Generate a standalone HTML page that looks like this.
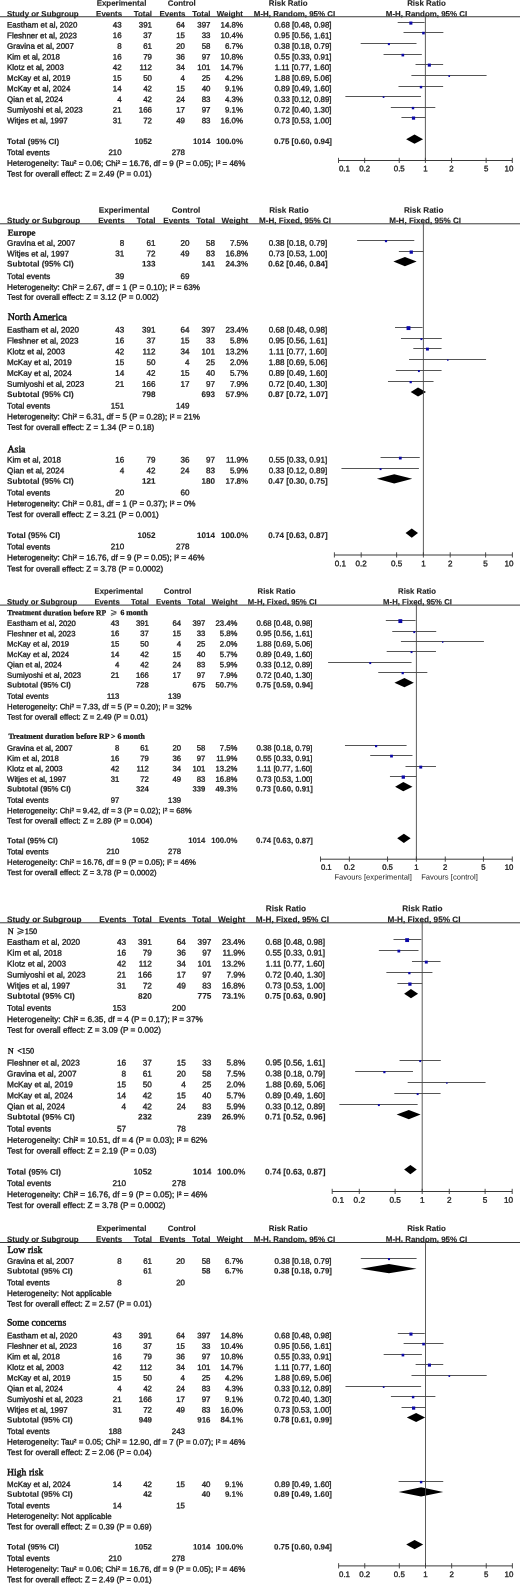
<!DOCTYPE html>
<html lang="en">
<head>
<meta charset="utf-8">
<title>Forest plots</title>
<style>
html,body{margin:0;padding:0;background:#fff;}
body{width:520px;height:1584px;overflow:hidden;}
svg{display:block;position:absolute;left:0;top:0;}
text{font-family:"Liberation Sans",sans-serif;fill:#242424;stroke:#242424;stroke-width:0.34px;text-rendering:geometricPrecision;}
svg{filter:blur(0.4px);}
text.b{font-weight:bold;stroke-width:0.12px;}
text.s{font-family:"Liberation Serif",serif;stroke:#000;stroke-width:0.42px;}
text.s.b{stroke-width:0.25px;}
</style>
</head>
<body>
<svg width="520" height="1584" viewBox="0 0 520 1584">
<rect x="0" y="0" width="520" height="1584" fill="#ffffff"/>
<text x="121.50" y="5.65" transform="rotate(0.05 121.50 5.65)" font-size="7.91" text-anchor="middle" class="b">Experimental</text>
<text x="181.75" y="5.65" transform="rotate(0.05 181.75 5.65)" font-size="7.91" text-anchor="middle" class="b">Control</text>
<text x="288.20" y="5.65" transform="rotate(0.05 288.20 5.65)" font-size="7.91" text-anchor="middle" class="b">Risk Ratio</text>
<text x="426.50" y="5.65" transform="rotate(0.05 426.50 5.65)" font-size="7.91" text-anchor="middle" class="b">Risk Ratio</text>
<text x="7.10" y="16.50" transform="rotate(0.05 7.10 16.50)" font-size="7.91" class="b">Study or Subgroup</text>
<text x="122.05" y="16.50" transform="rotate(0.05 122.05 16.50)" font-size="7.91" text-anchor="end" class="b">Events</text>
<text x="152.00" y="16.50" transform="rotate(0.05 152.00 16.50)" font-size="7.91" text-anchor="end" class="b">Total</text>
<text x="185.45" y="16.50" transform="rotate(0.05 185.45 16.50)" font-size="7.91" text-anchor="end" class="b">Events</text>
<text x="210.50" y="16.50" transform="rotate(0.05 210.50 16.50)" font-size="7.91" text-anchor="end" class="b">Total</text>
<text x="243.00" y="16.50" transform="rotate(0.05 243.00 16.50)" font-size="7.91" text-anchor="end" class="b">Weight</text>
<text x="294.50" y="16.50" transform="rotate(0.05 294.50 16.50)" font-size="7.91" text-anchor="middle" class="b">M-H, Random, 95% CI</text>
<text x="426.50" y="16.50" transform="rotate(0.05 426.50 16.50)" font-size="7.91" text-anchor="middle" class="b">M-H, Random, 95% CI</text>
<line x1="0.00" y1="16.75" x2="520.00" y2="16.75" stroke="#3a3a3a" stroke-width="1.0"/>
<text x="7.10" y="27.50" transform="rotate(0.05 7.10 27.50)" font-size="7.91">Eastham et al, 2020</text>
<text x="121.60" y="27.50" transform="rotate(0.05 121.60 27.50)" font-size="7.91" text-anchor="end">43</text>
<text x="152.00" y="27.50" transform="rotate(0.05 152.00 27.50)" font-size="7.91" text-anchor="end">391</text>
<text x="185.00" y="27.50" transform="rotate(0.05 185.00 27.50)" font-size="7.91" text-anchor="end">64</text>
<text x="210.50" y="27.50" transform="rotate(0.05 210.50 27.50)" font-size="7.91" text-anchor="end">397</text>
<text x="243.00" y="27.50" transform="rotate(0.05 243.00 27.50)" font-size="7.91" text-anchor="end">14.8%</text>
<text x="303.00" y="27.50" transform="rotate(0.05 303.00 27.50)" font-size="7.91" text-anchor="middle">0.68 [0.48, 0.98]</text>
<line x1="397.70" y1="22.50" x2="424.64" y2="22.50" stroke="#363636" stroke-width="0.85"/>
<rect x="409.31" y="21.56" width="3.08" height="3.08" fill="#0c08a8"/>
<text x="7.10" y="38.13" transform="rotate(0.05 7.10 38.13)" font-size="7.91">Fleshner et al, 2023</text>
<text x="121.60" y="38.13" transform="rotate(0.05 121.60 38.13)" font-size="7.91" text-anchor="end">16</text>
<text x="152.00" y="38.13" transform="rotate(0.05 152.00 38.13)" font-size="7.91" text-anchor="end">37</text>
<text x="185.00" y="38.13" transform="rotate(0.05 185.00 38.13)" font-size="7.91" text-anchor="end">15</text>
<text x="210.50" y="38.13" transform="rotate(0.05 210.50 38.13)" font-size="7.91" text-anchor="end">33</text>
<text x="243.00" y="38.13" transform="rotate(0.05 243.00 38.13)" font-size="7.91" text-anchor="end">10.4%</text>
<text x="303.00" y="38.13" transform="rotate(0.05 303.00 38.13)" font-size="7.91" text-anchor="middle">0.95 [0.56, 1.61]</text>
<line x1="403.52" y1="32.50" x2="443.37" y2="32.50" stroke="#363636" stroke-width="0.85"/>
<rect x="422.17" y="31.81" width="2.58" height="2.58" fill="#0c08a8"/>
<text x="7.10" y="48.77" transform="rotate(0.05 7.10 48.77)" font-size="7.91">Gravina et al, 2007</text>
<text x="121.60" y="48.77" transform="rotate(0.05 121.60 48.77)" font-size="7.91" text-anchor="end">8</text>
<text x="152.00" y="48.77" transform="rotate(0.05 152.00 48.77)" font-size="7.91" text-anchor="end">61</text>
<text x="185.00" y="48.77" transform="rotate(0.05 185.00 48.77)" font-size="7.91" text-anchor="end">20</text>
<text x="210.50" y="48.77" transform="rotate(0.05 210.50 48.77)" font-size="7.91" text-anchor="end">58</text>
<text x="243.00" y="48.77" transform="rotate(0.05 243.00 48.77)" font-size="7.91" text-anchor="end">6.7%</text>
<text x="303.00" y="48.77" transform="rotate(0.05 303.00 48.77)" font-size="7.91" text-anchor="middle">0.38 [0.18, 0.79]</text>
<line x1="360.68" y1="43.50" x2="416.50" y2="43.50" stroke="#363636" stroke-width="0.85"/>
<rect x="387.85" y="43.06" width="2.07" height="2.07" fill="#0c08a8"/>
<text x="7.10" y="59.40" transform="rotate(0.05 7.10 59.40)" font-size="7.91">Kim et al, 2018</text>
<text x="121.60" y="59.40" transform="rotate(0.05 121.60 59.40)" font-size="7.91" text-anchor="end">16</text>
<text x="152.00" y="59.40" transform="rotate(0.05 152.00 59.40)" font-size="7.91" text-anchor="end">79</text>
<text x="185.00" y="59.40" transform="rotate(0.05 185.00 59.40)" font-size="7.91" text-anchor="end">36</text>
<text x="210.50" y="59.40" transform="rotate(0.05 210.50 59.40)" font-size="7.91" text-anchor="end">97</text>
<text x="243.00" y="59.40" transform="rotate(0.05 243.00 59.40)" font-size="7.91" text-anchor="end">10.8%</text>
<text x="303.00" y="59.40" transform="rotate(0.05 303.00 59.40)" font-size="7.91" text-anchor="middle">0.55 [0.33, 0.91]</text>
<line x1="383.56" y1="54.50" x2="421.84" y2="54.50" stroke="#363636" stroke-width="0.85"/>
<rect x="401.52" y="53.79" width="2.63" height="2.63" fill="#0c08a8"/>
<text x="7.10" y="70.03" transform="rotate(0.05 7.10 70.03)" font-size="7.91">Klotz et al, 2003</text>
<text x="121.60" y="70.03" transform="rotate(0.05 121.60 70.03)" font-size="7.91" text-anchor="end">42</text>
<text x="152.00" y="70.03" transform="rotate(0.05 152.00 70.03)" font-size="7.91" text-anchor="end">112</text>
<text x="185.00" y="70.03" transform="rotate(0.05 185.00 70.03)" font-size="7.91" text-anchor="end">34</text>
<text x="210.50" y="70.03" transform="rotate(0.05 210.50 70.03)" font-size="7.91" text-anchor="end">101</text>
<text x="243.00" y="70.03" transform="rotate(0.05 243.00 70.03)" font-size="7.91" text-anchor="end">14.7%</text>
<text x="303.00" y="70.03" transform="rotate(0.05 303.00 70.03)" font-size="7.91" text-anchor="middle">1.11 [0.77, 1.60]</text>
<line x1="415.54" y1="64.50" x2="443.14" y2="64.50" stroke="#363636" stroke-width="0.85"/>
<rect x="427.80" y="63.57" width="3.07" height="3.07" fill="#0c08a8"/>
<text x="7.10" y="80.66" transform="rotate(0.05 7.10 80.66)" font-size="7.91">McKay et al, 2019</text>
<text x="121.60" y="80.66" transform="rotate(0.05 121.60 80.66)" font-size="7.91" text-anchor="end">15</text>
<text x="152.00" y="80.66" transform="rotate(0.05 152.00 80.66)" font-size="7.91" text-anchor="end">50</text>
<text x="185.00" y="80.66" transform="rotate(0.05 185.00 80.66)" font-size="7.91" text-anchor="end">4</text>
<text x="210.50" y="80.66" transform="rotate(0.05 210.50 80.66)" font-size="7.91" text-anchor="end">25</text>
<text x="243.00" y="80.66" transform="rotate(0.05 243.00 80.66)" font-size="7.91" text-anchor="end">4.2%</text>
<text x="303.00" y="80.66" transform="rotate(0.05 303.00 80.66)" font-size="7.91" text-anchor="middle">1.88 [0.69, 5.06]</text>
<line x1="411.40" y1="75.50" x2="486.59" y2="75.50" stroke="#363636" stroke-width="0.85"/>
<rect x="448.40" y="75.28" width="1.64" height="1.64" fill="#0c08a8"/>
<text x="7.10" y="91.30" transform="rotate(0.05 7.10 91.30)" font-size="7.91">McKay et al, 2024</text>
<text x="121.60" y="91.30" transform="rotate(0.05 121.60 91.30)" font-size="7.91" text-anchor="end">14</text>
<text x="152.00" y="91.30" transform="rotate(0.05 152.00 91.30)" font-size="7.91" text-anchor="end">42</text>
<text x="185.00" y="91.30" transform="rotate(0.05 185.00 91.30)" font-size="7.91" text-anchor="end">15</text>
<text x="210.50" y="91.30" transform="rotate(0.05 210.50 91.30)" font-size="7.91" text-anchor="end">40</text>
<text x="243.00" y="91.30" transform="rotate(0.05 243.00 91.30)" font-size="7.91" text-anchor="end">9.1%</text>
<text x="303.00" y="91.30" transform="rotate(0.05 303.00 91.30)" font-size="7.91" text-anchor="middle">0.89 [0.49, 1.60]</text>
<line x1="398.48" y1="86.50" x2="443.14" y2="86.50" stroke="#363636" stroke-width="0.85"/>
<rect x="419.80" y="85.89" width="2.41" height="2.41" fill="#0c08a8"/>
<text x="7.10" y="101.93" transform="rotate(0.05 7.10 101.93)" font-size="7.91">Qian et al, 2024</text>
<text x="121.60" y="101.93" transform="rotate(0.05 121.60 101.93)" font-size="7.91" text-anchor="end">4</text>
<text x="152.00" y="101.93" transform="rotate(0.05 152.00 101.93)" font-size="7.91" text-anchor="end">42</text>
<text x="185.00" y="101.93" transform="rotate(0.05 185.00 101.93)" font-size="7.91" text-anchor="end">24</text>
<text x="210.50" y="101.93" transform="rotate(0.05 210.50 101.93)" font-size="7.91" text-anchor="end">83</text>
<text x="243.00" y="101.93" transform="rotate(0.05 243.00 101.93)" font-size="7.91" text-anchor="end">4.3%</text>
<text x="303.00" y="101.93" transform="rotate(0.05 303.00 101.93)" font-size="7.91" text-anchor="middle">0.33 [0.12, 0.89]</text>
<line x1="345.38" y1="96.50" x2="421.00" y2="96.50" stroke="#363636" stroke-width="0.85"/>
<rect x="382.73" y="96.27" width="1.66" height="1.66" fill="#0c08a8"/>
<text x="7.10" y="112.56" transform="rotate(0.05 7.10 112.56)" font-size="7.91">Sumiyoshi et al, 2023</text>
<text x="121.60" y="112.56" transform="rotate(0.05 121.60 112.56)" font-size="7.91" text-anchor="end">21</text>
<text x="152.00" y="112.56" transform="rotate(0.05 152.00 112.56)" font-size="7.91" text-anchor="end">166</text>
<text x="185.00" y="112.56" transform="rotate(0.05 185.00 112.56)" font-size="7.91" text-anchor="end">17</text>
<text x="210.50" y="112.56" transform="rotate(0.05 210.50 112.56)" font-size="7.91" text-anchor="end">97</text>
<text x="243.00" y="112.56" transform="rotate(0.05 243.00 112.56)" font-size="7.91" text-anchor="end">9.1%</text>
<text x="303.00" y="112.56" transform="rotate(0.05 303.00 112.56)" font-size="7.91" text-anchor="middle">0.72 [0.40, 1.30]</text>
<line x1="390.82" y1="107.50" x2="435.30" y2="107.50" stroke="#363636" stroke-width="0.85"/>
<rect x="411.80" y="106.89" width="2.41" height="2.41" fill="#0c08a8"/>
<text x="7.10" y="123.20" transform="rotate(0.05 7.10 123.20)" font-size="7.91">Witjes et al, 1997</text>
<text x="121.60" y="123.20" transform="rotate(0.05 121.60 123.20)" font-size="7.91" text-anchor="end">31</text>
<text x="152.00" y="123.20" transform="rotate(0.05 152.00 123.20)" font-size="7.91" text-anchor="end">72</text>
<text x="185.00" y="123.20" transform="rotate(0.05 185.00 123.20)" font-size="7.91" text-anchor="end">49</text>
<text x="210.50" y="123.20" transform="rotate(0.05 210.50 123.20)" font-size="7.91" text-anchor="end">83</text>
<text x="243.00" y="123.20" transform="rotate(0.05 243.00 123.20)" font-size="7.91" text-anchor="end">16.0%</text>
<text x="303.00" y="123.20" transform="rotate(0.05 303.00 123.20)" font-size="7.91" text-anchor="middle">0.73 [0.53, 1.00]</text>
<line x1="401.44" y1="117.50" x2="425.40" y2="117.50" stroke="#363636" stroke-width="0.85"/>
<rect x="411.92" y="116.50" width="3.20" height="3.20" fill="#0c08a8"/>
<text x="7.10" y="144.12" transform="rotate(0.05 7.10 144.12)" font-size="7.97" class="b">Total (95% CI)</text>
<text x="152.00" y="144.10" transform="rotate(0.05 152.00 144.10)" font-size="7.91" text-anchor="end" class="b">1052</text>
<text x="210.50" y="144.10" transform="rotate(0.05 210.50 144.10)" font-size="7.91" text-anchor="end" class="b">1014</text>
<text x="243.00" y="144.10" transform="rotate(0.05 243.00 144.10)" font-size="7.91" text-anchor="end" class="b">100.0%</text>
<text x="303.00" y="144.10" transform="rotate(0.05 303.00 144.10)" font-size="7.91" text-anchor="middle" class="b">0.75 [0.60, 0.94]</text>
<polygon points="406.12,139.20 414.54,134.60 423.06,139.20 414.54,143.80" fill="#000"/>
<text x="7.10" y="155.12" transform="rotate(0.05 7.10 155.12)" font-size="7.97">Total events</text>
<text x="121.60" y="155.10" transform="rotate(0.05 121.60 155.10)" font-size="7.91" text-anchor="end">210</text>
<text x="185.00" y="155.10" transform="rotate(0.05 185.00 155.10)" font-size="7.91" text-anchor="end">278</text>
<text x="7.10" y="165.82" transform="rotate(0.05 7.10 165.82)" font-size="7.97">Heterogeneity: Tau² = 0.06; Chi² = 16.76, df = 9 (P = 0.05); I² = 46%</text>
<text x="7.10" y="176.42" transform="rotate(0.05 7.10 176.42)" font-size="7.97">Test for overall effect: Z = 2.49 (P = 0.01)</text>
<line x1="425.40" y1="15.00" x2="425.40" y2="160.50" stroke="#484848" stroke-width="0.9"/>
<line x1="338.50" y1="160.50" x2="512.30" y2="160.50" stroke="#3a3a3a" stroke-width="1.0"/>
<line x1="338.50" y1="157.80" x2="338.50" y2="163.00" stroke="#3a3a3a" stroke-width="0.9"/>
<text x="338.90" y="171.30" transform="rotate(0.05 338.90 171.30)" font-size="7.91">0.1</text>
<line x1="364.66" y1="157.80" x2="364.66" y2="163.00" stroke="#3a3a3a" stroke-width="0.9"/>
<text x="364.66" y="171.30" transform="rotate(0.05 364.66 171.30)" font-size="7.91" text-anchor="middle">0.2</text>
<line x1="399.24" y1="157.80" x2="399.24" y2="163.00" stroke="#3a3a3a" stroke-width="0.9"/>
<text x="399.24" y="171.30" transform="rotate(0.05 399.24 171.30)" font-size="7.91" text-anchor="middle">0.5</text>
<line x1="425.40" y1="157.80" x2="425.40" y2="163.00" stroke="#3a3a3a" stroke-width="0.9"/>
<text x="425.40" y="171.30" transform="rotate(0.05 425.40 171.30)" font-size="7.91" text-anchor="middle">1</text>
<line x1="451.56" y1="157.80" x2="451.56" y2="163.00" stroke="#3a3a3a" stroke-width="0.9"/>
<text x="451.56" y="171.30" transform="rotate(0.05 451.56 171.30)" font-size="7.91" text-anchor="middle">2</text>
<line x1="486.14" y1="157.80" x2="486.14" y2="163.00" stroke="#3a3a3a" stroke-width="0.9"/>
<text x="486.14" y="171.30" transform="rotate(0.05 486.14 171.30)" font-size="7.91" text-anchor="middle">5</text>
<line x1="512.30" y1="157.80" x2="512.30" y2="163.00" stroke="#3a3a3a" stroke-width="0.9"/>
<text x="513.30" y="171.30" transform="rotate(0.05 513.30 171.30)" font-size="7.91" text-anchor="end">10</text>
<text x="124.15" y="212.66" transform="rotate(0.05 124.15 212.66)" font-size="8.08" text-anchor="middle" class="b">Experimental</text>
<text x="186.00" y="212.66" transform="rotate(0.05 186.00 212.66)" font-size="8.08" text-anchor="middle" class="b">Control</text>
<text x="288.90" y="212.66" transform="rotate(0.05 288.90 212.66)" font-size="8.08" text-anchor="middle" class="b">Risk Ratio</text>
<text x="423.75" y="212.66" transform="rotate(0.05 423.75 212.66)" font-size="8.08" text-anchor="middle" class="b">Risk Ratio</text>
<text x="7.10" y="223.16" transform="rotate(0.05 7.10 223.16)" font-size="8.08" class="b">Study or Subgroup</text>
<text x="124.65" y="223.16" transform="rotate(0.05 124.65 223.16)" font-size="8.08" text-anchor="end" class="b">Events</text>
<text x="155.40" y="223.16" transform="rotate(0.05 155.40 223.16)" font-size="8.08" text-anchor="end" class="b">Total</text>
<text x="189.85" y="223.16" transform="rotate(0.05 189.85 223.16)" font-size="8.08" text-anchor="end" class="b">Events</text>
<text x="214.90" y="223.16" transform="rotate(0.05 214.90 223.16)" font-size="8.08" text-anchor="end" class="b">Total</text>
<text x="248.30" y="223.16" transform="rotate(0.05 248.30 223.16)" font-size="8.08" text-anchor="end" class="b">Weight</text>
<text x="295.00" y="223.16" transform="rotate(0.05 295.00 223.16)" font-size="8.08" text-anchor="middle" class="b">M-H, Fixed, 95% CI</text>
<text x="425.10" y="223.16" transform="rotate(0.05 425.10 223.16)" font-size="8.08" text-anchor="middle" class="b">M-H, Fixed, 95% CI</text>
<line x1="0.00" y1="223.80" x2="520.00" y2="223.80" stroke="#3a3a3a" stroke-width="1.0"/>
<text x="7.70" y="235.60" transform="rotate(0.05 7.70 235.60)" font-size="8.85" class="s b" fill="#000">Europe</text>
<text x="7.10" y="245.76" transform="rotate(0.05 7.10 245.76)" font-size="8.08">Gravina et al, 2007</text>
<text x="124.20" y="245.76" transform="rotate(0.05 124.20 245.76)" font-size="8.08" text-anchor="end">8</text>
<text x="155.40" y="245.76" transform="rotate(0.05 155.40 245.76)" font-size="8.08" text-anchor="end">61</text>
<text x="189.40" y="245.76" transform="rotate(0.05 189.40 245.76)" font-size="8.08" text-anchor="end">20</text>
<text x="214.90" y="245.76" transform="rotate(0.05 214.90 245.76)" font-size="8.08" text-anchor="end">58</text>
<text x="248.30" y="245.76" transform="rotate(0.05 248.30 245.76)" font-size="8.08" text-anchor="end">7.5%</text>
<text x="298.00" y="245.76" transform="rotate(0.05 298.00 245.76)" font-size="8.08" text-anchor="middle">0.38 [0.18, 0.79]</text>
<line x1="357.12" y1="240.50" x2="414.29" y2="240.50" stroke="#363636" stroke-width="0.85"/>
<rect x="384.91" y="240.00" width="2.19" height="2.19" fill="#0c08a8"/>
<text x="7.10" y="256.36" transform="rotate(0.05 7.10 256.36)" font-size="8.08">Witjes et al, 1997</text>
<text x="124.20" y="256.36" transform="rotate(0.05 124.20 256.36)" font-size="8.08" text-anchor="end">31</text>
<text x="155.40" y="256.36" transform="rotate(0.05 155.40 256.36)" font-size="8.08" text-anchor="end">72</text>
<text x="189.40" y="256.36" transform="rotate(0.05 189.40 256.36)" font-size="8.08" text-anchor="end">49</text>
<text x="214.90" y="256.36" transform="rotate(0.05 214.90 256.36)" font-size="8.08" text-anchor="end">83</text>
<text x="248.30" y="256.36" transform="rotate(0.05 248.30 256.36)" font-size="8.08" text-anchor="end">16.8%</text>
<text x="298.00" y="256.36" transform="rotate(0.05 298.00 256.36)" font-size="8.08" text-anchor="middle">0.73 [0.53, 1.00]</text>
<line x1="398.86" y1="251.50" x2="423.40" y2="251.50" stroke="#363636" stroke-width="0.85"/>
<rect x="409.60" y="250.46" width="3.28" height="3.28" fill="#0c08a8"/>
<text x="7.10" y="266.57" transform="rotate(0.05 7.10 266.57)" font-size="8.12" class="b">Subtotal (95% CI)</text>
<text x="155.40" y="266.56" transform="rotate(0.05 155.40 266.56)" font-size="8.08" text-anchor="end" class="b">133</text>
<text x="214.90" y="266.56" transform="rotate(0.05 214.90 266.56)" font-size="8.08" text-anchor="end" class="b">141</text>
<text x="248.30" y="266.56" transform="rotate(0.05 248.30 266.56)" font-size="8.08" text-anchor="end" class="b">24.3%</text>
<text x="298.00" y="266.56" transform="rotate(0.05 298.00 266.56)" font-size="8.08" text-anchor="middle" class="b">0.62 [0.46, 0.84]</text>
<polygon points="393.39,261.60 404.92,257.00 416.66,261.60 404.92,266.20" fill="#000"/>
<text x="7.10" y="278.97" transform="rotate(0.05 7.10 278.97)" font-size="8.12">Total events</text>
<text x="124.20" y="278.96" transform="rotate(0.05 124.20 278.96)" font-size="8.08" text-anchor="end">39</text>
<text x="189.40" y="278.96" transform="rotate(0.05 189.40 278.96)" font-size="8.08" text-anchor="end">69</text>
<text x="7.10" y="289.87" transform="rotate(0.05 7.10 289.87)" font-size="8.12">Heterogeneity: Chi² = 2.67, df = 1 (P = 0.10); I² = 63%</text>
<text x="7.10" y="299.67" transform="rotate(0.05 7.10 299.67)" font-size="8.12">Test for overall effect: Z = 3.12 (P = 0.002)</text>
<text x="7.70" y="320.10" transform="rotate(0.05 7.70 320.10)" font-size="9.95" class="s" fill="#000">North America</text>
<text x="7.10" y="332.46" transform="rotate(0.05 7.10 332.46)" font-size="8.08">Eastham et al, 2020</text>
<text x="124.20" y="332.46" transform="rotate(0.05 124.20 332.46)" font-size="8.08" text-anchor="end">43</text>
<text x="155.40" y="332.46" transform="rotate(0.05 155.40 332.46)" font-size="8.08" text-anchor="end">391</text>
<text x="189.40" y="332.46" transform="rotate(0.05 189.40 332.46)" font-size="8.08" text-anchor="end">64</text>
<text x="214.90" y="332.46" transform="rotate(0.05 214.90 332.46)" font-size="8.08" text-anchor="end">397</text>
<text x="248.30" y="332.46" transform="rotate(0.05 248.30 332.46)" font-size="8.08" text-anchor="end">23.4%</text>
<text x="298.00" y="332.46" transform="rotate(0.05 298.00 332.46)" font-size="8.08" text-anchor="middle">0.68 [0.48, 0.98]</text>
<line x1="395.03" y1="327.50" x2="422.62" y2="327.50" stroke="#363636" stroke-width="0.85"/>
<rect x="406.56" y="326.17" width="3.87" height="3.87" fill="#0c08a8"/>
<text x="7.10" y="343.36" transform="rotate(0.05 7.10 343.36)" font-size="8.08">Fleshner et al, 2023</text>
<text x="124.20" y="343.36" transform="rotate(0.05 124.20 343.36)" font-size="8.08" text-anchor="end">16</text>
<text x="155.40" y="343.36" transform="rotate(0.05 155.40 343.36)" font-size="8.08" text-anchor="end">37</text>
<text x="189.40" y="343.36" transform="rotate(0.05 189.40 343.36)" font-size="8.08" text-anchor="end">15</text>
<text x="214.90" y="343.36" transform="rotate(0.05 214.90 343.36)" font-size="8.08" text-anchor="end">33</text>
<text x="248.30" y="343.36" transform="rotate(0.05 248.30 343.36)" font-size="8.08" text-anchor="end">5.8%</text>
<text x="298.00" y="343.36" transform="rotate(0.05 298.00 343.36)" font-size="8.08" text-anchor="middle">0.95 [0.56, 1.61]</text>
<line x1="400.99" y1="338.50" x2="441.81" y2="338.50" stroke="#363636" stroke-width="0.85"/>
<rect x="420.45" y="338.14" width="1.93" height="1.93" fill="#0c08a8"/>
<text x="7.10" y="354.16" transform="rotate(0.05 7.10 354.16)" font-size="8.08">Klotz et al, 2003</text>
<text x="124.20" y="354.16" transform="rotate(0.05 124.20 354.16)" font-size="8.08" text-anchor="end">42</text>
<text x="155.40" y="354.16" transform="rotate(0.05 155.40 354.16)" font-size="8.08" text-anchor="end">112</text>
<text x="189.40" y="354.16" transform="rotate(0.05 189.40 354.16)" font-size="8.08" text-anchor="end">34</text>
<text x="214.90" y="354.16" transform="rotate(0.05 214.90 354.16)" font-size="8.08" text-anchor="end">101</text>
<text x="248.30" y="354.16" transform="rotate(0.05 248.30 354.16)" font-size="8.08" text-anchor="end">13.2%</text>
<text x="298.00" y="354.16" transform="rotate(0.05 298.00 354.16)" font-size="8.08" text-anchor="middle">1.11 [0.77, 1.60]</text>
<line x1="413.30" y1="348.50" x2="441.57" y2="348.50" stroke="#363636" stroke-width="0.85"/>
<rect x="425.98" y="347.65" width="2.91" height="2.91" fill="#0c08a8"/>
<text x="7.10" y="365.06" transform="rotate(0.05 7.10 365.06)" font-size="8.08">McKay et al, 2019</text>
<text x="124.20" y="365.06" transform="rotate(0.05 124.20 365.06)" font-size="8.08" text-anchor="end">15</text>
<text x="155.40" y="365.06" transform="rotate(0.05 155.40 365.06)" font-size="8.08" text-anchor="end">50</text>
<text x="189.40" y="365.06" transform="rotate(0.05 189.40 365.06)" font-size="8.08" text-anchor="end">4</text>
<text x="214.90" y="365.06" transform="rotate(0.05 214.90 365.06)" font-size="8.08" text-anchor="end">25</text>
<text x="248.30" y="365.06" transform="rotate(0.05 248.30 365.06)" font-size="8.08" text-anchor="end">2.0%</text>
<text x="298.00" y="365.06" transform="rotate(0.05 298.00 365.06)" font-size="8.08" text-anchor="middle">1.88 [0.69, 5.06]</text>
<line x1="409.06" y1="359.50" x2="486.07" y2="359.50" stroke="#363636" stroke-width="0.85"/>
<rect x="447.10" y="359.40" width="1.40" height="1.40" fill="#0c08a8"/>
<text x="7.10" y="375.86" transform="rotate(0.05 7.10 375.86)" font-size="8.08">McKay et al, 2024</text>
<text x="124.20" y="375.86" transform="rotate(0.05 124.20 375.86)" font-size="8.08" text-anchor="end">14</text>
<text x="155.40" y="375.86" transform="rotate(0.05 155.40 375.86)" font-size="8.08" text-anchor="end">42</text>
<text x="189.40" y="375.86" transform="rotate(0.05 189.40 375.86)" font-size="8.08" text-anchor="end">15</text>
<text x="214.90" y="375.86" transform="rotate(0.05 214.90 375.86)" font-size="8.08" text-anchor="end">40</text>
<text x="248.30" y="375.86" transform="rotate(0.05 248.30 375.86)" font-size="8.08" text-anchor="end">5.7%</text>
<text x="298.00" y="375.86" transform="rotate(0.05 298.00 375.86)" font-size="8.08" text-anchor="middle">0.89 [0.49, 1.60]</text>
<line x1="395.83" y1="370.50" x2="441.57" y2="370.50" stroke="#363636" stroke-width="0.85"/>
<rect x="417.94" y="370.15" width="1.91" height="1.91" fill="#0c08a8"/>
<text x="7.10" y="386.66" transform="rotate(0.05 7.10 386.66)" font-size="8.08">Sumiyoshi et al, 2023</text>
<text x="124.20" y="386.66" transform="rotate(0.05 124.20 386.66)" font-size="8.08" text-anchor="end">21</text>
<text x="155.40" y="386.66" transform="rotate(0.05 155.40 386.66)" font-size="8.08" text-anchor="end">166</text>
<text x="189.40" y="386.66" transform="rotate(0.05 189.40 386.66)" font-size="8.08" text-anchor="end">17</text>
<text x="214.90" y="386.66" transform="rotate(0.05 214.90 386.66)" font-size="8.08" text-anchor="end">97</text>
<text x="248.30" y="386.66" transform="rotate(0.05 248.30 386.66)" font-size="8.08" text-anchor="end">7.9%</text>
<text x="298.00" y="386.66" transform="rotate(0.05 298.00 386.66)" font-size="8.08" text-anchor="middle">0.72 [0.40, 1.30]</text>
<line x1="387.98" y1="381.50" x2="433.54" y2="381.50" stroke="#363636" stroke-width="0.85"/>
<rect x="409.58" y="380.98" width="2.25" height="2.25" fill="#0c08a8"/>
<text x="7.10" y="396.97" transform="rotate(0.05 7.10 396.97)" font-size="8.12" class="b">Subtotal (95% CI)</text>
<text x="155.40" y="396.96" transform="rotate(0.05 155.40 396.96)" font-size="8.08" text-anchor="end" class="b">798</text>
<text x="214.90" y="396.96" transform="rotate(0.05 214.90 396.96)" font-size="8.08" text-anchor="end" class="b">693</text>
<text x="248.30" y="396.96" transform="rotate(0.05 248.30 396.96)" font-size="8.08" text-anchor="end" class="b">57.9%</text>
<text x="298.00" y="396.96" transform="rotate(0.05 298.00 396.96)" font-size="8.08" text-anchor="middle" class="b">0.87 [0.72, 1.07]</text>
<polygon points="410.70,392.00 418.02,387.40 426.02,392.00 418.02,396.60" fill="#000"/>
<text x="7.10" y="408.57" transform="rotate(0.05 7.10 408.57)" font-size="8.12">Total events</text>
<text x="124.20" y="408.56" transform="rotate(0.05 124.20 408.56)" font-size="8.08" text-anchor="end">151</text>
<text x="189.40" y="408.56" transform="rotate(0.05 189.40 408.56)" font-size="8.08" text-anchor="end">149</text>
<text x="7.10" y="419.27" transform="rotate(0.05 7.10 419.27)" font-size="8.12">Heterogeneity: Chi² = 6.31, df = 5 (P = 0.28); I² = 21%</text>
<text x="7.10" y="429.87" transform="rotate(0.05 7.10 429.87)" font-size="8.12">Test for overall effect: Z = 1.34 (P = 0.18)</text>
<text x="7.50" y="452.30" transform="rotate(0.05 7.50 452.30)" font-size="9.80" class="s" fill="#000">Asia</text>
<text x="7.10" y="462.46" transform="rotate(0.05 7.10 462.46)" font-size="8.08">Kim et al, 2018</text>
<text x="124.20" y="462.46" transform="rotate(0.05 124.20 462.46)" font-size="8.08" text-anchor="end">16</text>
<text x="155.40" y="462.46" transform="rotate(0.05 155.40 462.46)" font-size="8.08" text-anchor="end">79</text>
<text x="189.40" y="462.46" transform="rotate(0.05 189.40 462.46)" font-size="8.08" text-anchor="end">36</text>
<text x="214.90" y="462.46" transform="rotate(0.05 214.90 462.46)" font-size="8.08" text-anchor="end">97</text>
<text x="248.30" y="462.46" transform="rotate(0.05 248.30 462.46)" font-size="8.08" text-anchor="end">11.9%</text>
<text x="298.00" y="462.46" transform="rotate(0.05 298.00 462.46)" font-size="8.08" text-anchor="middle">0.55 [0.33, 0.91]</text>
<line x1="380.55" y1="457.50" x2="419.75" y2="457.50" stroke="#363636" stroke-width="0.85"/>
<rect x="398.91" y="456.72" width="2.76" height="2.76" fill="#0c08a8"/>
<text x="7.10" y="473.26" transform="rotate(0.05 7.10 473.26)" font-size="8.08">Qian et al, 2024</text>
<text x="124.20" y="473.26" transform="rotate(0.05 124.20 473.26)" font-size="8.08" text-anchor="end">4</text>
<text x="155.40" y="473.26" transform="rotate(0.05 155.40 473.26)" font-size="8.08" text-anchor="end">42</text>
<text x="189.40" y="473.26" transform="rotate(0.05 189.40 473.26)" font-size="8.08" text-anchor="end">24</text>
<text x="214.90" y="473.26" transform="rotate(0.05 214.90 473.26)" font-size="8.08" text-anchor="end">83</text>
<text x="248.30" y="473.26" transform="rotate(0.05 248.30 473.26)" font-size="8.08" text-anchor="end">5.9%</text>
<text x="298.00" y="473.26" transform="rotate(0.05 298.00 473.26)" font-size="8.08" text-anchor="middle">0.33 [0.12, 0.89]</text>
<line x1="341.45" y1="468.50" x2="418.90" y2="468.50" stroke="#363636" stroke-width="0.85"/>
<rect x="379.58" y="468.13" width="1.94" height="1.94" fill="#0c08a8"/>
<text x="7.10" y="483.77" transform="rotate(0.05 7.10 483.77)" font-size="8.12" class="b">Subtotal (95% CI)</text>
<text x="155.40" y="483.76" transform="rotate(0.05 155.40 483.76)" font-size="8.08" text-anchor="end" class="b">121</text>
<text x="214.90" y="483.76" transform="rotate(0.05 214.90 483.76)" font-size="8.08" text-anchor="end" class="b">180</text>
<text x="248.30" y="483.76" transform="rotate(0.05 248.30 483.76)" font-size="8.08" text-anchor="end" class="b">17.8%</text>
<text x="298.00" y="483.76" transform="rotate(0.05 298.00 483.76)" font-size="8.08" text-anchor="middle" class="b">0.47 [0.30, 0.75]</text>
<polygon points="376.86,478.80 394.22,474.20 412.28,478.80 394.22,483.40" fill="#000"/>
<text x="7.10" y="495.37" transform="rotate(0.05 7.10 495.37)" font-size="8.12">Total events</text>
<text x="124.20" y="495.36" transform="rotate(0.05 124.20 495.36)" font-size="8.08" text-anchor="end">20</text>
<text x="189.40" y="495.36" transform="rotate(0.05 189.40 495.36)" font-size="8.08" text-anchor="end">60</text>
<text x="7.10" y="506.17" transform="rotate(0.05 7.10 506.17)" font-size="8.12">Heterogeneity: Chi² = 0.81, df = 1 (P = 0.37); I² = 0%</text>
<text x="7.10" y="517.07" transform="rotate(0.05 7.10 517.07)" font-size="8.12">Test for overall effect: Z = 3.21 (P = 0.001)</text>
<text x="7.10" y="538.07" transform="rotate(0.05 7.10 538.07)" font-size="8.12" class="b">Total (95% CI)</text>
<text x="155.40" y="538.06" transform="rotate(0.05 155.40 538.06)" font-size="8.08" text-anchor="end" class="b">1052</text>
<text x="214.90" y="538.06" transform="rotate(0.05 214.90 538.06)" font-size="8.08" text-anchor="end" class="b">1014</text>
<text x="248.30" y="538.06" transform="rotate(0.05 248.30 538.06)" font-size="8.08" text-anchor="end" class="b">100.0%</text>
<text x="298.00" y="538.06" transform="rotate(0.05 298.00 538.06)" font-size="8.08" text-anchor="middle" class="b">0.74 [0.63, 0.87]</text>
<polygon points="405.54,533.10 411.76,528.50 418.02,533.10 411.76,537.70" fill="#000"/>
<text x="7.10" y="549.37" transform="rotate(0.05 7.10 549.37)" font-size="8.12">Total events</text>
<text x="124.20" y="549.36" transform="rotate(0.05 124.20 549.36)" font-size="8.08" text-anchor="end">210</text>
<text x="189.40" y="549.36" transform="rotate(0.05 189.40 549.36)" font-size="8.08" text-anchor="end">278</text>
<text x="7.10" y="560.17" transform="rotate(0.05 7.10 560.17)" font-size="8.12">Heterogeneity: Chi² = 16.76, df = 9 (P = 0.05); I² = 46%</text>
<text x="7.10" y="571.37" transform="rotate(0.05 7.10 571.37)" font-size="8.12">Test for overall effect: Z = 3.78 (P = 0.0002)</text>
<line x1="423.40" y1="221.30" x2="423.40" y2="555.00" stroke="#484848" stroke-width="0.9"/>
<line x1="334.40" y1="555.00" x2="512.40" y2="555.00" stroke="#3a3a3a" stroke-width="1.0"/>
<line x1="334.40" y1="552.30" x2="334.40" y2="557.50" stroke="#3a3a3a" stroke-width="0.9"/>
<text x="334.80" y="566.16" transform="rotate(0.05 334.80 566.16)" font-size="8.08">0.1</text>
<line x1="361.19" y1="552.30" x2="361.19" y2="557.50" stroke="#3a3a3a" stroke-width="0.9"/>
<text x="361.19" y="566.16" transform="rotate(0.05 361.19 566.16)" font-size="8.08" text-anchor="middle">0.2</text>
<line x1="396.61" y1="552.30" x2="396.61" y2="557.50" stroke="#3a3a3a" stroke-width="0.9"/>
<text x="396.61" y="566.16" transform="rotate(0.05 396.61 566.16)" font-size="8.08" text-anchor="middle">0.5</text>
<line x1="423.40" y1="552.30" x2="423.40" y2="557.50" stroke="#3a3a3a" stroke-width="0.9"/>
<text x="423.40" y="566.16" transform="rotate(0.05 423.40 566.16)" font-size="8.08" text-anchor="middle">1</text>
<line x1="450.19" y1="552.30" x2="450.19" y2="557.50" stroke="#3a3a3a" stroke-width="0.9"/>
<text x="450.19" y="566.16" transform="rotate(0.05 450.19 566.16)" font-size="8.08" text-anchor="middle">2</text>
<line x1="485.61" y1="552.30" x2="485.61" y2="557.50" stroke="#3a3a3a" stroke-width="0.9"/>
<text x="485.61" y="566.16" transform="rotate(0.05 485.61 566.16)" font-size="8.08" text-anchor="middle">5</text>
<line x1="512.40" y1="552.30" x2="512.40" y2="557.50" stroke="#3a3a3a" stroke-width="0.9"/>
<text x="513.40" y="566.16" transform="rotate(0.05 513.40 566.16)" font-size="8.08" text-anchor="end">10</text>
<text x="118.90" y="593.79" transform="rotate(0.05 118.90 593.79)" font-size="7.74" text-anchor="middle" class="b">Experimental</text>
<text x="177.60" y="593.79" transform="rotate(0.05 177.60 593.79)" font-size="7.74" text-anchor="middle" class="b">Control</text>
<text x="276.50" y="593.79" transform="rotate(0.05 276.50 593.79)" font-size="7.74" text-anchor="middle" class="b">Risk Ratio</text>
<text x="417.00" y="593.79" transform="rotate(0.05 417.00 593.79)" font-size="7.74" text-anchor="middle" class="b">Risk Ratio</text>
<text x="7.10" y="604.44" transform="rotate(0.05 7.10 604.44)" font-size="7.74" class="b">Study or Subgroup</text>
<text x="119.75" y="604.44" transform="rotate(0.05 119.75 604.44)" font-size="7.74" text-anchor="end" class="b">Events</text>
<text x="148.90" y="604.44" transform="rotate(0.05 148.90 604.44)" font-size="7.74" text-anchor="end" class="b">Total</text>
<text x="181.45" y="604.44" transform="rotate(0.05 181.45 604.44)" font-size="7.74" text-anchor="end" class="b">Events</text>
<text x="205.40" y="604.44" transform="rotate(0.05 205.40 604.44)" font-size="7.74" text-anchor="end" class="b">Total</text>
<text x="237.50" y="604.44" transform="rotate(0.05 237.50 604.44)" font-size="7.74" text-anchor="end" class="b">Weight</text>
<text x="282.25" y="604.44" transform="rotate(0.05 282.25 604.44)" font-size="7.74" text-anchor="middle" class="b">M-H, Fixed, 95% CI</text>
<text x="417.50" y="604.44" transform="rotate(0.05 417.50 604.44)" font-size="7.74" text-anchor="middle" class="b">M-H, Fixed, 95% CI</text>
<line x1="0.00" y1="605.10" x2="520.00" y2="605.10" stroke="#3a3a3a" stroke-width="1.0"/>
<text x="7.20" y="615.10" transform="rotate(0.05 7.20 615.10)" font-size="7.64" class="s b" fill="#000">Treatment duration before RP</text>
<path d="M110.90,610.20 L116.40,612.11 L110.90,614.02 M110.90,615.50 L116.40,613.59" fill="none" stroke="#000" stroke-width="0.65" stroke-linejoin="miter"/>
<text x="120.50" y="615.10" transform="rotate(0.05 120.50 615.10)" font-size="7.72" class="s b" fill="#000">6 month</text>
<text x="7.10" y="625.84" transform="rotate(0.05 7.10 625.84)" font-size="7.74">Eastham et al, 2020</text>
<text x="119.30" y="625.84" transform="rotate(0.05 119.30 625.84)" font-size="7.74" text-anchor="end">43</text>
<text x="148.90" y="625.84" transform="rotate(0.05 148.90 625.84)" font-size="7.74" text-anchor="end">391</text>
<text x="181.00" y="625.84" transform="rotate(0.05 181.00 625.84)" font-size="7.74" text-anchor="end">64</text>
<text x="205.40" y="625.84" transform="rotate(0.05 205.40 625.84)" font-size="7.74" text-anchor="end">397</text>
<text x="237.50" y="625.84" transform="rotate(0.05 237.50 625.84)" font-size="7.74" text-anchor="end">23.4%</text>
<text x="284.50" y="625.84" transform="rotate(0.05 284.50 625.84)" font-size="7.74" text-anchor="middle">0.68 [0.48, 0.98]</text>
<line x1="385.83" y1="620.50" x2="415.56" y2="620.50" stroke="#363636" stroke-width="0.85"/>
<rect x="398.40" y="619.17" width="3.87" height="3.87" fill="#0c08a8"/>
<text x="7.10" y="636.14" transform="rotate(0.05 7.10 636.14)" font-size="7.74">Fleshner et al, 2023</text>
<text x="119.30" y="636.14" transform="rotate(0.05 119.30 636.14)" font-size="7.74" text-anchor="end">16</text>
<text x="148.90" y="636.14" transform="rotate(0.05 148.90 636.14)" font-size="7.74" text-anchor="end">37</text>
<text x="181.00" y="636.14" transform="rotate(0.05 181.00 636.14)" font-size="7.74" text-anchor="end">15</text>
<text x="205.40" y="636.14" transform="rotate(0.05 205.40 636.14)" font-size="7.74" text-anchor="end">33</text>
<text x="237.50" y="636.14" transform="rotate(0.05 237.50 636.14)" font-size="7.74" text-anchor="end">5.8%</text>
<text x="284.50" y="636.14" transform="rotate(0.05 284.50 636.14)" font-size="7.74" text-anchor="middle">0.95 [0.56, 1.61]</text>
<line x1="392.25" y1="631.50" x2="436.23" y2="631.50" stroke="#363636" stroke-width="0.85"/>
<rect x="413.30" y="631.14" width="1.93" height="1.93" fill="#0c08a8"/>
<text x="7.10" y="646.54" transform="rotate(0.05 7.10 646.54)" font-size="7.74">McKay et al, 2019</text>
<text x="119.30" y="646.54" transform="rotate(0.05 119.30 646.54)" font-size="7.74" text-anchor="end">15</text>
<text x="148.90" y="646.54" transform="rotate(0.05 148.90 646.54)" font-size="7.74" text-anchor="end">50</text>
<text x="181.00" y="646.54" transform="rotate(0.05 181.00 646.54)" font-size="7.74" text-anchor="end">4</text>
<text x="205.40" y="646.54" transform="rotate(0.05 205.40 646.54)" font-size="7.74" text-anchor="end">25</text>
<text x="237.50" y="646.54" transform="rotate(0.05 237.50 646.54)" font-size="7.74" text-anchor="end">2.0%</text>
<text x="284.50" y="646.54" transform="rotate(0.05 284.50 646.54)" font-size="7.74" text-anchor="middle">1.88 [0.69, 5.06]</text>
<line x1="400.95" y1="641.50" x2="483.93" y2="641.50" stroke="#363636" stroke-width="0.85"/>
<rect x="441.99" y="641.40" width="1.40" height="1.40" fill="#0c08a8"/>
<text x="7.10" y="656.94" transform="rotate(0.05 7.10 656.94)" font-size="7.74">McKay et al, 2024</text>
<text x="119.30" y="656.94" transform="rotate(0.05 119.30 656.94)" font-size="7.74" text-anchor="end">14</text>
<text x="148.90" y="656.94" transform="rotate(0.05 148.90 656.94)" font-size="7.74" text-anchor="end">42</text>
<text x="181.00" y="656.94" transform="rotate(0.05 181.00 656.94)" font-size="7.74" text-anchor="end">15</text>
<text x="205.40" y="656.94" transform="rotate(0.05 205.40 656.94)" font-size="7.74" text-anchor="end">40</text>
<text x="237.50" y="656.94" transform="rotate(0.05 237.50 656.94)" font-size="7.74" text-anchor="end">5.7%</text>
<text x="284.50" y="656.94" transform="rotate(0.05 284.50 656.94)" font-size="7.74" text-anchor="middle">0.89 [0.49, 1.60]</text>
<line x1="386.69" y1="651.50" x2="435.98" y2="651.50" stroke="#363636" stroke-width="0.85"/>
<rect x="410.59" y="651.15" width="1.91" height="1.91" fill="#0c08a8"/>
<text x="7.10" y="667.34" transform="rotate(0.05 7.10 667.34)" font-size="7.74">Qian et al, 2024</text>
<text x="119.30" y="667.34" transform="rotate(0.05 119.30 667.34)" font-size="7.74" text-anchor="end">4</text>
<text x="148.90" y="667.34" transform="rotate(0.05 148.90 667.34)" font-size="7.74" text-anchor="end">42</text>
<text x="181.00" y="667.34" transform="rotate(0.05 181.00 667.34)" font-size="7.74" text-anchor="end">24</text>
<text x="205.40" y="667.34" transform="rotate(0.05 205.40 667.34)" font-size="7.74" text-anchor="end">83</text>
<text x="237.50" y="667.34" transform="rotate(0.05 237.50 667.34)" font-size="7.74" text-anchor="end">5.9%</text>
<text x="284.50" y="667.34" transform="rotate(0.05 284.50 667.34)" font-size="7.74" text-anchor="middle">0.33 [0.12, 0.89]</text>
<line x1="328.09" y1="662.50" x2="411.55" y2="662.50" stroke="#363636" stroke-width="0.85"/>
<rect x="369.25" y="662.13" width="1.94" height="1.94" fill="#0c08a8"/>
<text x="7.10" y="677.74" transform="rotate(0.05 7.10 677.74)" font-size="7.74">Sumiyoshi et al, 2023</text>
<text x="119.30" y="677.74" transform="rotate(0.05 119.30 677.74)" font-size="7.74" text-anchor="end">21</text>
<text x="148.90" y="677.74" transform="rotate(0.05 148.90 677.74)" font-size="7.74" text-anchor="end">166</text>
<text x="181.00" y="677.74" transform="rotate(0.05 181.00 677.74)" font-size="7.74" text-anchor="end">17</text>
<text x="205.40" y="677.74" transform="rotate(0.05 205.40 677.74)" font-size="7.74" text-anchor="end">97</text>
<text x="237.50" y="677.74" transform="rotate(0.05 237.50 677.74)" font-size="7.74" text-anchor="end">7.9%</text>
<text x="284.50" y="677.74" transform="rotate(0.05 284.50 677.74)" font-size="7.74" text-anchor="middle">0.72 [0.40, 1.30]</text>
<line x1="378.24" y1="672.50" x2="427.33" y2="672.50" stroke="#363636" stroke-width="0.85"/>
<rect x="401.59" y="671.98" width="2.25" height="2.25" fill="#0c08a8"/>
<text x="7.10" y="687.55" transform="rotate(0.05 7.10 687.55)" font-size="7.77" class="b">Subtotal (95% CI)</text>
<text x="148.90" y="687.54" transform="rotate(0.05 148.90 687.54)" font-size="7.74" text-anchor="end" class="b">728</text>
<text x="205.40" y="687.54" transform="rotate(0.05 205.40 687.54)" font-size="7.74" text-anchor="end" class="b">675</text>
<text x="237.50" y="687.54" transform="rotate(0.05 237.50 687.54)" font-size="7.74" text-anchor="end" class="b">50.7%</text>
<text x="284.50" y="687.54" transform="rotate(0.05 284.50 687.54)" font-size="7.74" text-anchor="middle" class="b">0.75 [0.59, 0.94]</text>
<polygon points="394.42,682.70 404.42,678.10 413.82,682.70 404.42,687.30" fill="#000"/>
<text x="7.10" y="698.75" transform="rotate(0.05 7.10 698.75)" font-size="7.77">Total events</text>
<text x="119.30" y="698.74" transform="rotate(0.05 119.30 698.74)" font-size="7.74" text-anchor="end">113</text>
<text x="181.00" y="698.74" transform="rotate(0.05 181.00 698.74)" font-size="7.74" text-anchor="end">139</text>
<text x="7.10" y="709.25" transform="rotate(0.05 7.10 709.25)" font-size="7.77">Heterogeneity: Chi² = 7.33, df = 5 (P = 0.20); I² = 32%</text>
<text x="7.10" y="719.45" transform="rotate(0.05 7.10 719.45)" font-size="7.77">Test for overall effect: Z = 2.49 (P = 0.01)</text>
<text x="8.40" y="738.70" transform="rotate(0.05 8.40 738.70)" font-size="7.80" class="s b" fill="#000">Treatment duration before RP &gt; 6 month</text>
<text x="7.10" y="750.64" transform="rotate(0.05 7.10 750.64)" font-size="7.74">Gravina et al, 2007</text>
<text x="119.30" y="750.64" transform="rotate(0.05 119.30 750.64)" font-size="7.74" text-anchor="end">8</text>
<text x="148.90" y="750.64" transform="rotate(0.05 148.90 750.64)" font-size="7.74" text-anchor="end">61</text>
<text x="181.00" y="750.64" transform="rotate(0.05 181.00 750.64)" font-size="7.74" text-anchor="end">20</text>
<text x="205.40" y="750.64" transform="rotate(0.05 205.40 750.64)" font-size="7.74" text-anchor="end">58</text>
<text x="237.50" y="750.64" transform="rotate(0.05 237.50 750.64)" font-size="7.74" text-anchor="end">7.5%</text>
<text x="284.50" y="750.64" transform="rotate(0.05 284.50 750.64)" font-size="7.74" text-anchor="middle">0.38 [0.18, 0.79]</text>
<line x1="344.98" y1="745.50" x2="406.58" y2="745.50" stroke="#363636" stroke-width="0.85"/>
<rect x="375.01" y="745.00" width="2.19" height="2.19" fill="#0c08a8"/>
<text x="7.10" y="761.04" transform="rotate(0.05 7.10 761.04)" font-size="7.74">Kim et al, 2018</text>
<text x="119.30" y="761.04" transform="rotate(0.05 119.30 761.04)" font-size="7.74" text-anchor="end">16</text>
<text x="148.90" y="761.04" transform="rotate(0.05 148.90 761.04)" font-size="7.74" text-anchor="end">79</text>
<text x="181.00" y="761.04" transform="rotate(0.05 181.00 761.04)" font-size="7.74" text-anchor="end">36</text>
<text x="205.40" y="761.04" transform="rotate(0.05 205.40 761.04)" font-size="7.74" text-anchor="end">97</text>
<text x="237.50" y="761.04" transform="rotate(0.05 237.50 761.04)" font-size="7.74" text-anchor="end">11.9%</text>
<text x="284.50" y="761.04" transform="rotate(0.05 284.50 761.04)" font-size="7.74" text-anchor="middle">0.55 [0.33, 0.91]</text>
<line x1="370.23" y1="755.50" x2="412.47" y2="755.50" stroke="#363636" stroke-width="0.85"/>
<rect x="390.12" y="754.72" width="2.76" height="2.76" fill="#0c08a8"/>
<text x="7.10" y="771.34" transform="rotate(0.05 7.10 771.34)" font-size="7.74">Klotz et al, 2003</text>
<text x="119.30" y="771.34" transform="rotate(0.05 119.30 771.34)" font-size="7.74" text-anchor="end">42</text>
<text x="148.90" y="771.34" transform="rotate(0.05 148.90 771.34)" font-size="7.74" text-anchor="end">112</text>
<text x="181.00" y="771.34" transform="rotate(0.05 181.00 771.34)" font-size="7.74" text-anchor="end">34</text>
<text x="205.40" y="771.34" transform="rotate(0.05 205.40 771.34)" font-size="7.74" text-anchor="end">101</text>
<text x="237.50" y="771.34" transform="rotate(0.05 237.50 771.34)" font-size="7.74" text-anchor="end">13.2%</text>
<text x="284.50" y="771.34" transform="rotate(0.05 284.50 771.34)" font-size="7.74" text-anchor="middle">1.11 [0.77, 1.60]</text>
<line x1="405.51" y1="766.50" x2="435.98" y2="766.50" stroke="#363636" stroke-width="0.85"/>
<rect x="419.29" y="765.65" width="2.91" height="2.91" fill="#0c08a8"/>
<text x="7.10" y="781.74" transform="rotate(0.05 7.10 781.74)" font-size="7.74">Witjes et al, 1997</text>
<text x="119.30" y="781.74" transform="rotate(0.05 119.30 781.74)" font-size="7.74" text-anchor="end">31</text>
<text x="148.90" y="781.74" transform="rotate(0.05 148.90 781.74)" font-size="7.74" text-anchor="end">72</text>
<text x="181.00" y="781.74" transform="rotate(0.05 181.00 781.74)" font-size="7.74" text-anchor="end">49</text>
<text x="205.40" y="781.74" transform="rotate(0.05 205.40 781.74)" font-size="7.74" text-anchor="end">83</text>
<text x="237.50" y="781.74" transform="rotate(0.05 237.50 781.74)" font-size="7.74" text-anchor="end">16.8%</text>
<text x="284.50" y="781.74" transform="rotate(0.05 284.50 781.74)" font-size="7.74" text-anchor="middle">0.73 [0.53, 1.00]</text>
<line x1="389.96" y1="776.50" x2="416.40" y2="776.50" stroke="#363636" stroke-width="0.85"/>
<rect x="401.65" y="775.46" width="3.28" height="3.28" fill="#0c08a8"/>
<text x="7.10" y="791.55" transform="rotate(0.05 7.10 791.55)" font-size="7.77" class="b">Subtotal (95% CI)</text>
<text x="148.90" y="791.54" transform="rotate(0.05 148.90 791.54)" font-size="7.74" text-anchor="end" class="b">324</text>
<text x="205.40" y="791.54" transform="rotate(0.05 205.40 791.54)" font-size="7.74" text-anchor="end" class="b">339</text>
<text x="237.50" y="791.54" transform="rotate(0.05 237.50 791.54)" font-size="7.74" text-anchor="end" class="b">49.3%</text>
<text x="284.50" y="791.54" transform="rotate(0.05 284.50 791.54)" font-size="7.74" text-anchor="middle" class="b">0.73 [0.60, 0.91]</text>
<polygon points="395.12,786.70 403.29,782.10 412.47,786.70 403.29,791.30" fill="#000"/>
<text x="7.10" y="802.75" transform="rotate(0.05 7.10 802.75)" font-size="7.77">Total events</text>
<text x="119.30" y="802.74" transform="rotate(0.05 119.30 802.74)" font-size="7.74" text-anchor="end">97</text>
<text x="181.00" y="802.74" transform="rotate(0.05 181.00 802.74)" font-size="7.74" text-anchor="end">139</text>
<text x="7.10" y="813.15" transform="rotate(0.05 7.10 813.15)" font-size="7.77">Heterogeneity: Chi² = 9.42, df = 3 (P = 0.02); I² = 68%</text>
<text x="7.10" y="823.35" transform="rotate(0.05 7.10 823.35)" font-size="7.77">Test for overall effect: Z = 2.89 (P = 0.004)</text>
<text x="7.10" y="843.15" transform="rotate(0.05 7.10 843.15)" font-size="7.77" class="b">Total (95% CI)</text>
<text x="148.90" y="843.14" transform="rotate(0.05 148.90 843.14)" font-size="7.74" text-anchor="end" class="b">1052</text>
<text x="205.40" y="843.14" transform="rotate(0.05 205.40 843.14)" font-size="7.74" text-anchor="end" class="b">1014</text>
<text x="237.50" y="843.14" transform="rotate(0.05 237.50 843.14)" font-size="7.74" text-anchor="end" class="b">100.0%</text>
<text x="284.50" y="843.14" transform="rotate(0.05 284.50 843.14)" font-size="7.74" text-anchor="middle" class="b">0.74 [0.63, 0.87]</text>
<polygon points="397.16,838.30 403.86,833.70 410.60,838.30 403.86,842.90" fill="#000"/>
<text x="7.10" y="854.15" transform="rotate(0.05 7.10 854.15)" font-size="7.77">Total events</text>
<text x="119.30" y="854.14" transform="rotate(0.05 119.30 854.14)" font-size="7.74" text-anchor="end">210</text>
<text x="181.00" y="854.14" transform="rotate(0.05 181.00 854.14)" font-size="7.74" text-anchor="end">278</text>
<text x="7.10" y="864.65" transform="rotate(0.05 7.10 864.65)" font-size="7.77">Heterogeneity: Chi² = 16.76, df = 9 (P = 0.05); I² = 46%</text>
<text x="7.10" y="875.05" transform="rotate(0.05 7.10 875.05)" font-size="7.77">Test for overall effect: Z = 3.78 (P = 0.0002)</text>
<line x1="416.40" y1="600.00" x2="416.40" y2="859.20" stroke="#484848" stroke-width="0.9"/>
<line x1="320.50" y1="859.20" x2="512.30" y2="859.20" stroke="#3a3a3a" stroke-width="1.0"/>
<line x1="320.50" y1="856.50" x2="320.50" y2="861.70" stroke="#3a3a3a" stroke-width="0.9"/>
<text x="320.90" y="869.84" transform="rotate(0.05 320.90 869.84)" font-size="7.74">0.1</text>
<line x1="349.37" y1="856.50" x2="349.37" y2="861.70" stroke="#3a3a3a" stroke-width="0.9"/>
<text x="349.37" y="869.84" transform="rotate(0.05 349.37 869.84)" font-size="7.74" text-anchor="middle">0.2</text>
<line x1="387.53" y1="856.50" x2="387.53" y2="861.70" stroke="#3a3a3a" stroke-width="0.9"/>
<text x="387.53" y="869.84" transform="rotate(0.05 387.53 869.84)" font-size="7.74" text-anchor="middle">0.5</text>
<line x1="416.40" y1="856.50" x2="416.40" y2="861.70" stroke="#3a3a3a" stroke-width="0.9"/>
<text x="416.40" y="869.84" transform="rotate(0.05 416.40 869.84)" font-size="7.74" text-anchor="middle">1</text>
<line x1="445.27" y1="856.50" x2="445.27" y2="861.70" stroke="#3a3a3a" stroke-width="0.9"/>
<text x="445.27" y="869.84" transform="rotate(0.05 445.27 869.84)" font-size="7.74" text-anchor="middle">2</text>
<line x1="483.43" y1="856.50" x2="483.43" y2="861.70" stroke="#3a3a3a" stroke-width="0.9"/>
<text x="483.43" y="869.84" transform="rotate(0.05 483.43 869.84)" font-size="7.74" text-anchor="middle">5</text>
<line x1="512.30" y1="856.50" x2="512.30" y2="861.70" stroke="#3a3a3a" stroke-width="0.9"/>
<text x="513.30" y="869.84" transform="rotate(0.05 513.30 869.84)" font-size="7.74" text-anchor="end">10</text>
<text x="411.80" y="879.51" transform="rotate(0.05 411.80 879.51)" font-size="7.62" text-anchor="end" fill="#5c5c5c" style="stroke:none">Favours [experimental]</text>
<text x="421.20" y="879.51" transform="rotate(0.05 421.20 879.51)" font-size="7.62" fill="#5c5c5c" style="stroke:none">Favours [control]</text>
<text x="285.90" y="911.35" transform="rotate(0.05 285.90 911.35)" font-size="8.22" text-anchor="middle" class="b">Risk Ratio</text>
<text x="422.40" y="911.35" transform="rotate(0.05 422.40 911.35)" font-size="8.22" text-anchor="middle" class="b">Risk Ratio</text>
<text x="7.10" y="922.20" transform="rotate(0.05 7.10 922.20)" font-size="8.22" class="b">Study or Subgroup</text>
<text x="126.30" y="922.20" transform="rotate(0.05 126.30 922.20)" font-size="8.22" text-anchor="end" class="b">Events</text>
<text x="151.80" y="922.20" transform="rotate(0.05 151.80 922.20)" font-size="8.22" text-anchor="end" class="b">Total</text>
<text x="186.00" y="922.20" transform="rotate(0.05 186.00 922.20)" font-size="8.22" text-anchor="end" class="b">Events</text>
<text x="211.30" y="922.20" transform="rotate(0.05 211.30 922.20)" font-size="8.22" text-anchor="end" class="b">Total</text>
<text x="245.20" y="922.20" transform="rotate(0.05 245.20 922.20)" font-size="8.22" text-anchor="end" class="b">Weight</text>
<text x="292.40" y="922.20" transform="rotate(0.05 292.40 922.20)" font-size="8.22" text-anchor="middle" class="b">M-H, Fixed, 95% CI</text>
<text x="424.00" y="922.20" transform="rotate(0.05 424.00 922.20)" font-size="8.22" text-anchor="middle" class="b">M-H, Fixed, 95% CI</text>
<line x1="0.00" y1="922.80" x2="520.00" y2="922.80" stroke="#3a3a3a" stroke-width="1.0"/>
<text x="7.75" y="934.10" transform="rotate(0.05 7.75 934.10)" font-size="8.25" class="s" fill="#000" style="stroke-width:0.3px">N</text>
<path d="M17.40,928.20 L23.50,930.40 L17.40,932.59 M17.40,934.30 L23.50,932.10" fill="none" stroke="#000" stroke-width="0.8" stroke-linejoin="miter"/>
<text x="24.80" y="934.10" transform="rotate(0.05 24.80 934.10)" font-size="8.25" class="s" fill="#000" style="stroke-width:0.3px">150</text>
<text x="7.10" y="944.70" transform="rotate(0.05 7.10 944.70)" font-size="8.22">Eastham et al, 2020</text>
<text x="126.10" y="944.70" transform="rotate(0.05 126.10 944.70)" font-size="8.22" text-anchor="end">43</text>
<text x="151.80" y="944.70" transform="rotate(0.05 151.80 944.70)" font-size="8.22" text-anchor="end">391</text>
<text x="185.80" y="944.70" transform="rotate(0.05 185.80 944.70)" font-size="8.22" text-anchor="end">64</text>
<text x="211.30" y="944.70" transform="rotate(0.05 211.30 944.70)" font-size="8.22" text-anchor="end">397</text>
<text x="245.20" y="944.70" transform="rotate(0.05 245.20 944.70)" font-size="8.22" text-anchor="end">23.4%</text>
<text x="295.25" y="944.70" transform="rotate(0.05 295.25 944.70)" font-size="8.22" text-anchor="middle">0.68 [0.48, 0.98]</text>
<line x1="393.51" y1="939.50" x2="421.41" y2="939.50" stroke="#363636" stroke-width="0.85"/>
<rect x="405.19" y="938.17" width="3.87" height="3.87" fill="#0c08a8"/>
<text x="7.10" y="955.60" transform="rotate(0.05 7.10 955.60)" font-size="8.22">Kim et al, 2018</text>
<text x="126.10" y="955.60" transform="rotate(0.05 126.10 955.60)" font-size="8.22" text-anchor="end">16</text>
<text x="151.80" y="955.60" transform="rotate(0.05 151.80 955.60)" font-size="8.22" text-anchor="end">79</text>
<text x="185.80" y="955.60" transform="rotate(0.05 185.80 955.60)" font-size="8.22" text-anchor="end">36</text>
<text x="211.30" y="955.60" transform="rotate(0.05 211.30 955.60)" font-size="8.22" text-anchor="end">97</text>
<text x="245.20" y="955.60" transform="rotate(0.05 245.20 955.60)" font-size="8.22" text-anchor="end">11.9%</text>
<text x="295.25" y="955.60" transform="rotate(0.05 295.25 955.60)" font-size="8.22" text-anchor="middle">0.55 [0.33, 0.91]</text>
<line x1="378.87" y1="950.50" x2="418.51" y2="950.50" stroke="#363636" stroke-width="0.85"/>
<rect x="397.45" y="949.72" width="2.76" height="2.76" fill="#0c08a8"/>
<text x="7.10" y="966.50" transform="rotate(0.05 7.10 966.50)" font-size="8.22">Klotz et al, 2003</text>
<text x="126.10" y="966.50" transform="rotate(0.05 126.10 966.50)" font-size="8.22" text-anchor="end">42</text>
<text x="151.80" y="966.50" transform="rotate(0.05 151.80 966.50)" font-size="8.22" text-anchor="end">112</text>
<text x="185.80" y="966.50" transform="rotate(0.05 185.80 966.50)" font-size="8.22" text-anchor="end">34</text>
<text x="211.30" y="966.50" transform="rotate(0.05 211.30 966.50)" font-size="8.22" text-anchor="end">101</text>
<text x="245.20" y="966.50" transform="rotate(0.05 245.20 966.50)" font-size="8.22" text-anchor="end">13.2%</text>
<text x="295.25" y="966.50" transform="rotate(0.05 295.25 966.50)" font-size="8.22" text-anchor="middle">1.11 [0.77, 1.60]</text>
<line x1="411.98" y1="961.50" x2="440.57" y2="961.50" stroke="#363636" stroke-width="0.85"/>
<rect x="424.83" y="960.65" width="2.91" height="2.91" fill="#0c08a8"/>
<text x="7.10" y="977.50" transform="rotate(0.05 7.10 977.50)" font-size="8.22">Sumiyoshi et al, 2023</text>
<text x="126.10" y="977.50" transform="rotate(0.05 126.10 977.50)" font-size="8.22" text-anchor="end">21</text>
<text x="151.80" y="977.50" transform="rotate(0.05 151.80 977.50)" font-size="8.22" text-anchor="end">166</text>
<text x="185.80" y="977.50" transform="rotate(0.05 185.80 977.50)" font-size="8.22" text-anchor="end">17</text>
<text x="211.30" y="977.50" transform="rotate(0.05 211.30 977.50)" font-size="8.22" text-anchor="end">97</text>
<text x="245.20" y="977.50" transform="rotate(0.05 245.20 977.50)" font-size="8.22" text-anchor="end">7.9%</text>
<text x="295.25" y="977.50" transform="rotate(0.05 295.25 977.50)" font-size="8.22" text-anchor="middle">0.72 [0.40, 1.30]</text>
<line x1="386.39" y1="972.50" x2="432.45" y2="972.50" stroke="#363636" stroke-width="0.85"/>
<rect x="408.24" y="971.98" width="2.25" height="2.25" fill="#0c08a8"/>
<text x="7.10" y="988.40" transform="rotate(0.05 7.10 988.40)" font-size="8.22">Witjes et al, 1997</text>
<text x="126.10" y="988.40" transform="rotate(0.05 126.10 988.40)" font-size="8.22" text-anchor="end">31</text>
<text x="151.80" y="988.40" transform="rotate(0.05 151.80 988.40)" font-size="8.22" text-anchor="end">72</text>
<text x="185.80" y="988.40" transform="rotate(0.05 185.80 988.40)" font-size="8.22" text-anchor="end">49</text>
<text x="211.30" y="988.40" transform="rotate(0.05 211.30 988.40)" font-size="8.22" text-anchor="end">83</text>
<text x="245.20" y="988.40" transform="rotate(0.05 245.20 988.40)" font-size="8.22" text-anchor="end">16.8%</text>
<text x="295.25" y="988.40" transform="rotate(0.05 295.25 988.40)" font-size="8.22" text-anchor="middle">0.73 [0.53, 1.00]</text>
<line x1="397.38" y1="983.50" x2="422.20" y2="983.50" stroke="#363636" stroke-width="0.85"/>
<rect x="408.26" y="982.46" width="3.28" height="3.28" fill="#0c08a8"/>
<text x="7.10" y="998.71" transform="rotate(0.05 7.10 998.71)" font-size="8.24" class="b">Subtotal (95% CI)</text>
<text x="151.80" y="998.70" transform="rotate(0.05 151.80 998.70)" font-size="8.22" text-anchor="end" class="b">820</text>
<text x="211.30" y="998.70" transform="rotate(0.05 211.30 998.70)" font-size="8.22" text-anchor="end" class="b">775</text>
<text x="245.20" y="998.70" transform="rotate(0.05 245.20 998.70)" font-size="8.22" text-anchor="end" class="b">73.1%</text>
<text x="295.25" y="998.70" transform="rotate(0.05 295.25 998.70)" font-size="8.22" text-anchor="middle" class="b">0.75 [0.63, 0.90]</text>
<polygon points="404.14,993.70 410.96,989.10 418.08,993.70 410.96,998.30" fill="#000"/>
<text x="7.10" y="1010.81" transform="rotate(0.05 7.10 1010.81)" font-size="8.24">Total events</text>
<text x="126.10" y="1010.80" transform="rotate(0.05 126.10 1010.80)" font-size="8.22" text-anchor="end">153</text>
<text x="185.80" y="1010.80" transform="rotate(0.05 185.80 1010.80)" font-size="8.22" text-anchor="end">200</text>
<text x="7.10" y="1021.91" transform="rotate(0.05 7.10 1021.91)" font-size="8.24">Heterogeneity: Chi² = 6.35, df = 4 (P = 0.17); I² = 37%</text>
<text x="7.10" y="1032.71" transform="rotate(0.05 7.10 1032.71)" font-size="8.24">Test for overall effect: Z = 3.09 (P = 0.002)</text>
<text x="7.75" y="1053.50" transform="rotate(0.05 7.75 1053.50)" font-size="8.25" class="s" fill="#000" style="stroke-width:0.3px">N</text>
<text x="17.20" y="1053.50" transform="rotate(0.05 17.20 1053.50)" font-size="8.25" class="s" fill="#000" style="stroke-width:0.3px">&lt;150</text>
<text x="7.10" y="1065.40" transform="rotate(0.05 7.10 1065.40)" font-size="8.22">Fleshner et al, 2023</text>
<text x="126.10" y="1065.40" transform="rotate(0.05 126.10 1065.40)" font-size="8.22" text-anchor="end">16</text>
<text x="151.80" y="1065.40" transform="rotate(0.05 151.80 1065.40)" font-size="8.22" text-anchor="end">37</text>
<text x="185.80" y="1065.40" transform="rotate(0.05 185.80 1065.40)" font-size="8.22" text-anchor="end">15</text>
<text x="211.30" y="1065.40" transform="rotate(0.05 211.30 1065.40)" font-size="8.22" text-anchor="end">33</text>
<text x="245.20" y="1065.40" transform="rotate(0.05 245.20 1065.40)" font-size="8.22" text-anchor="end">5.8%</text>
<text x="295.25" y="1065.40" transform="rotate(0.05 295.25 1065.40)" font-size="8.22" text-anchor="middle">0.95 [0.56, 1.61]</text>
<line x1="399.54" y1="1060.50" x2="440.81" y2="1060.50" stroke="#363636" stroke-width="0.85"/>
<rect x="419.23" y="1060.14" width="1.93" height="1.93" fill="#0c08a8"/>
<text x="7.10" y="1076.40" transform="rotate(0.05 7.10 1076.40)" font-size="8.22">Gravina et al, 2007</text>
<text x="126.10" y="1076.40" transform="rotate(0.05 126.10 1076.40)" font-size="8.22" text-anchor="end">8</text>
<text x="151.80" y="1076.40" transform="rotate(0.05 151.80 1076.40)" font-size="8.22" text-anchor="end">61</text>
<text x="185.80" y="1076.40" transform="rotate(0.05 185.80 1076.40)" font-size="8.22" text-anchor="end">20</text>
<text x="211.30" y="1076.40" transform="rotate(0.05 211.30 1076.40)" font-size="8.22" text-anchor="end">58</text>
<text x="245.20" y="1076.40" transform="rotate(0.05 245.20 1076.40)" font-size="8.22" text-anchor="end">7.5%</text>
<text x="295.25" y="1076.40" transform="rotate(0.05 295.25 1076.40)" font-size="8.22" text-anchor="middle">0.38 [0.18, 0.79]</text>
<line x1="355.17" y1="1071.50" x2="412.99" y2="1071.50" stroke="#363636" stroke-width="0.85"/>
<rect x="383.29" y="1071.00" width="2.19" height="2.19" fill="#0c08a8"/>
<text x="7.10" y="1087.30" transform="rotate(0.05 7.10 1087.30)" font-size="8.22">McKay et al, 2019</text>
<text x="126.10" y="1087.30" transform="rotate(0.05 126.10 1087.30)" font-size="8.22" text-anchor="end">15</text>
<text x="151.80" y="1087.30" transform="rotate(0.05 151.80 1087.30)" font-size="8.22" text-anchor="end">50</text>
<text x="185.80" y="1087.30" transform="rotate(0.05 185.80 1087.30)" font-size="8.22" text-anchor="end">4</text>
<text x="211.30" y="1087.30" transform="rotate(0.05 211.30 1087.30)" font-size="8.22" text-anchor="end">25</text>
<text x="245.20" y="1087.30" transform="rotate(0.05 245.20 1087.30)" font-size="8.22" text-anchor="end">2.0%</text>
<text x="295.25" y="1087.30" transform="rotate(0.05 295.25 1087.30)" font-size="8.22" text-anchor="middle">1.88 [0.69, 5.06]</text>
<line x1="407.70" y1="1082.50" x2="485.57" y2="1082.50" stroke="#363636" stroke-width="0.85"/>
<rect x="446.17" y="1082.40" width="1.40" height="1.40" fill="#0c08a8"/>
<text x="7.10" y="1098.30" transform="rotate(0.05 7.10 1098.30)" font-size="8.22">McKay et al, 2024</text>
<text x="126.10" y="1098.30" transform="rotate(0.05 126.10 1098.30)" font-size="8.22" text-anchor="end">14</text>
<text x="151.80" y="1098.30" transform="rotate(0.05 151.80 1098.30)" font-size="8.22" text-anchor="end">42</text>
<text x="185.80" y="1098.30" transform="rotate(0.05 185.80 1098.30)" font-size="8.22" text-anchor="end">15</text>
<text x="211.30" y="1098.30" transform="rotate(0.05 211.30 1098.30)" font-size="8.22" text-anchor="end">40</text>
<text x="245.20" y="1098.30" transform="rotate(0.05 245.20 1098.30)" font-size="8.22" text-anchor="end">5.7%</text>
<text x="295.25" y="1098.30" transform="rotate(0.05 295.25 1098.30)" font-size="8.22" text-anchor="middle">0.89 [0.49, 1.60]</text>
<line x1="394.32" y1="1093.50" x2="440.57" y2="1093.50" stroke="#363636" stroke-width="0.85"/>
<rect x="416.69" y="1093.15" width="1.91" height="1.91" fill="#0c08a8"/>
<text x="7.10" y="1109.30" transform="rotate(0.05 7.10 1109.30)" font-size="8.22">Qian et al, 2024</text>
<text x="126.10" y="1109.30" transform="rotate(0.05 126.10 1109.30)" font-size="8.22" text-anchor="end">4</text>
<text x="151.80" y="1109.30" transform="rotate(0.05 151.80 1109.30)" font-size="8.22" text-anchor="end">42</text>
<text x="185.80" y="1109.30" transform="rotate(0.05 185.80 1109.30)" font-size="8.22" text-anchor="end">24</text>
<text x="211.30" y="1109.30" transform="rotate(0.05 211.30 1109.30)" font-size="8.22" text-anchor="end">83</text>
<text x="245.20" y="1109.30" transform="rotate(0.05 245.20 1109.30)" font-size="8.22" text-anchor="end">5.9%</text>
<text x="295.25" y="1109.30" transform="rotate(0.05 295.25 1109.30)" font-size="8.22" text-anchor="middle">0.33 [0.12, 0.89]</text>
<line x1="339.33" y1="1104.50" x2="417.65" y2="1104.50" stroke="#363636" stroke-width="0.85"/>
<rect x="377.89" y="1104.13" width="1.94" height="1.94" fill="#0c08a8"/>
<text x="7.10" y="1119.61" transform="rotate(0.05 7.10 1119.61)" font-size="8.24" class="b">Subtotal (95% CI)</text>
<text x="151.80" y="1119.60" transform="rotate(0.05 151.80 1119.60)" font-size="8.22" text-anchor="end" class="b">232</text>
<text x="211.30" y="1119.60" transform="rotate(0.05 211.30 1119.60)" font-size="8.22" text-anchor="end" class="b">239</text>
<text x="245.20" y="1119.60" transform="rotate(0.05 245.20 1119.60)" font-size="8.22" text-anchor="end" class="b">26.9%</text>
<text x="295.25" y="1119.60" transform="rotate(0.05 295.25 1119.60)" font-size="8.22" text-anchor="middle" class="b">0.71 [0.52, 0.96]</text>
<polygon points="396.64,1114.60 408.81,1110.00 420.60,1114.60 408.81,1119.20" fill="#000"/>
<text x="7.10" y="1131.51" transform="rotate(0.05 7.10 1131.51)" font-size="8.24">Total events</text>
<text x="126.10" y="1131.50" transform="rotate(0.05 126.10 1131.50)" font-size="8.22" text-anchor="end">57</text>
<text x="185.80" y="1131.50" transform="rotate(0.05 185.80 1131.50)" font-size="8.22" text-anchor="end">78</text>
<text x="7.10" y="1142.71" transform="rotate(0.05 7.10 1142.71)" font-size="8.24">Heterogeneity: Chi² = 10.51, df = 4 (P = 0.03); I² = 62%</text>
<text x="7.10" y="1153.51" transform="rotate(0.05 7.10 1153.51)" font-size="8.24">Test for overall effect: Z = 2.19 (P = 0.03)</text>
<text x="7.10" y="1174.61" transform="rotate(0.05 7.10 1174.61)" font-size="8.24" class="b">Total (95% CI)</text>
<text x="151.80" y="1174.60" transform="rotate(0.05 151.80 1174.60)" font-size="8.22" text-anchor="end" class="b">1052</text>
<text x="211.30" y="1174.60" transform="rotate(0.05 211.30 1174.60)" font-size="8.22" text-anchor="end" class="b">1014</text>
<text x="245.20" y="1174.60" transform="rotate(0.05 245.20 1174.60)" font-size="8.22" text-anchor="end" class="b">100.0%</text>
<text x="295.25" y="1174.60" transform="rotate(0.05 295.25 1174.60)" font-size="8.22" text-anchor="middle" class="b">0.74 [0.63, 0.87]</text>
<polygon points="404.14,1169.60 410.43,1165.00 416.76,1169.60 410.43,1174.20" fill="#000"/>
<text x="7.10" y="1186.01" transform="rotate(0.05 7.10 1186.01)" font-size="8.24">Total events</text>
<text x="126.10" y="1186.00" transform="rotate(0.05 126.10 1186.00)" font-size="8.22" text-anchor="end">210</text>
<text x="185.80" y="1186.00" transform="rotate(0.05 185.80 1186.00)" font-size="8.22" text-anchor="end">278</text>
<text x="7.10" y="1197.11" transform="rotate(0.05 7.10 1197.11)" font-size="8.24">Heterogeneity: Chi² = 16.76, df = 9 (P = 0.05); I² = 46%</text>
<text x="7.10" y="1207.91" transform="rotate(0.05 7.10 1207.91)" font-size="8.24">Test for overall effect: Z = 3.78 (P = 0.0002)</text>
<line x1="422.20" y1="920.00" x2="422.20" y2="1191.50" stroke="#484848" stroke-width="0.9"/>
<line x1="332.20" y1="1191.50" x2="512.20" y2="1191.50" stroke="#3a3a3a" stroke-width="1.0"/>
<line x1="332.20" y1="1188.80" x2="332.20" y2="1194.00" stroke="#3a3a3a" stroke-width="0.9"/>
<text x="332.60" y="1202.70" transform="rotate(0.05 332.60 1202.70)" font-size="8.22">0.1</text>
<line x1="359.29" y1="1188.80" x2="359.29" y2="1194.00" stroke="#3a3a3a" stroke-width="0.9"/>
<text x="359.29" y="1202.70" transform="rotate(0.05 359.29 1202.70)" font-size="8.22" text-anchor="middle">0.2</text>
<line x1="395.11" y1="1188.80" x2="395.11" y2="1194.00" stroke="#3a3a3a" stroke-width="0.9"/>
<text x="395.11" y="1202.70" transform="rotate(0.05 395.11 1202.70)" font-size="8.22" text-anchor="middle">0.5</text>
<line x1="422.20" y1="1188.80" x2="422.20" y2="1194.00" stroke="#3a3a3a" stroke-width="0.9"/>
<text x="422.20" y="1202.70" transform="rotate(0.05 422.20 1202.70)" font-size="8.22" text-anchor="middle">1</text>
<line x1="449.29" y1="1188.80" x2="449.29" y2="1194.00" stroke="#3a3a3a" stroke-width="0.9"/>
<text x="449.29" y="1202.70" transform="rotate(0.05 449.29 1202.70)" font-size="8.22" text-anchor="middle">2</text>
<line x1="485.11" y1="1188.80" x2="485.11" y2="1194.00" stroke="#3a3a3a" stroke-width="0.9"/>
<text x="485.11" y="1202.70" transform="rotate(0.05 485.11 1202.70)" font-size="8.22" text-anchor="middle">5</text>
<line x1="512.20" y1="1188.80" x2="512.20" y2="1194.00" stroke="#3a3a3a" stroke-width="0.9"/>
<text x="513.20" y="1202.70" transform="rotate(0.05 513.20 1202.70)" font-size="8.22" text-anchor="end">10</text>
<text x="121.50" y="1230.95" transform="rotate(0.05 121.50 1230.95)" font-size="7.91" text-anchor="middle" class="b">Experimental</text>
<text x="181.75" y="1230.95" transform="rotate(0.05 181.75 1230.95)" font-size="7.91" text-anchor="middle" class="b">Control</text>
<text x="288.20" y="1230.95" transform="rotate(0.05 288.20 1230.95)" font-size="7.91" text-anchor="middle" class="b">Risk Ratio</text>
<text x="426.50" y="1230.95" transform="rotate(0.05 426.50 1230.95)" font-size="7.91" text-anchor="middle" class="b">Risk Ratio</text>
<text x="7.10" y="1241.90" transform="rotate(0.05 7.10 1241.90)" font-size="7.91" class="b">Study or Subgroup</text>
<text x="122.05" y="1241.90" transform="rotate(0.05 122.05 1241.90)" font-size="7.91" text-anchor="end" class="b">Events</text>
<text x="152.00" y="1241.90" transform="rotate(0.05 152.00 1241.90)" font-size="7.91" text-anchor="end" class="b">Total</text>
<text x="185.45" y="1241.90" transform="rotate(0.05 185.45 1241.90)" font-size="7.91" text-anchor="end" class="b">Events</text>
<text x="210.50" y="1241.90" transform="rotate(0.05 210.50 1241.90)" font-size="7.91" text-anchor="end" class="b">Total</text>
<text x="243.00" y="1241.90" transform="rotate(0.05 243.00 1241.90)" font-size="7.91" text-anchor="end" class="b">Weight</text>
<text x="294.50" y="1241.90" transform="rotate(0.05 294.50 1241.90)" font-size="7.91" text-anchor="middle" class="b">M-H, Random, 95% CI</text>
<text x="426.50" y="1241.90" transform="rotate(0.05 426.50 1241.90)" font-size="7.91" text-anchor="middle" class="b">M-H, Random, 95% CI</text>
<line x1="0.00" y1="1242.50" x2="520.00" y2="1242.50" stroke="#3a3a3a" stroke-width="1.0"/>
<text x="7.40" y="1253.00" transform="rotate(0.05 7.40 1253.00)" font-size="9.80" class="s" fill="#000">Low risk</text>
<text x="7.10" y="1263.80" transform="rotate(0.05 7.10 1263.80)" font-size="7.91">Gravina et al, 2007</text>
<text x="121.60" y="1263.80" transform="rotate(0.05 121.60 1263.80)" font-size="7.91" text-anchor="end">8</text>
<text x="152.00" y="1263.80" transform="rotate(0.05 152.00 1263.80)" font-size="7.91" text-anchor="end">61</text>
<text x="185.00" y="1263.80" transform="rotate(0.05 185.00 1263.80)" font-size="7.91" text-anchor="end">20</text>
<text x="210.50" y="1263.80" transform="rotate(0.05 210.50 1263.80)" font-size="7.91" text-anchor="end">58</text>
<text x="243.00" y="1263.80" transform="rotate(0.05 243.00 1263.80)" font-size="7.91" text-anchor="end">6.7%</text>
<text x="303.00" y="1263.80" transform="rotate(0.05 303.00 1263.80)" font-size="7.91" text-anchor="middle">0.38 [0.18, 0.79]</text>
<line x1="360.78" y1="1258.50" x2="416.60" y2="1258.50" stroke="#363636" stroke-width="0.85"/>
<rect x="387.95" y="1258.06" width="2.07" height="2.07" fill="#0c08a8"/>
<text x="7.10" y="1273.62" transform="rotate(0.05 7.10 1273.62)" font-size="7.97" class="b">Subtotal (95% CI)</text>
<text x="152.00" y="1273.60" transform="rotate(0.05 152.00 1273.60)" font-size="7.91" text-anchor="end" class="b">61</text>
<text x="210.50" y="1273.60" transform="rotate(0.05 210.50 1273.60)" font-size="7.91" text-anchor="end" class="b">58</text>
<text x="243.00" y="1273.60" transform="rotate(0.05 243.00 1273.60)" font-size="7.91" text-anchor="end" class="b">6.7%</text>
<text x="303.00" y="1273.60" transform="rotate(0.05 303.00 1273.60)" font-size="7.91" text-anchor="middle" class="b">0.38 [0.18, 0.79]</text>
<polygon points="360.78,1268.70 388.98,1264.10 416.60,1268.70 388.98,1273.30" fill="#000"/>
<text x="7.10" y="1285.32" transform="rotate(0.05 7.10 1285.32)" font-size="7.97">Total events</text>
<text x="121.60" y="1285.30" transform="rotate(0.05 121.60 1285.30)" font-size="7.91" text-anchor="end">8</text>
<text x="185.00" y="1285.30" transform="rotate(0.05 185.00 1285.30)" font-size="7.91" text-anchor="end">20</text>
<text x="7.10" y="1295.92" transform="rotate(0.05 7.10 1295.92)" font-size="7.97">Heterogeneity: Not applicable</text>
<text x="7.10" y="1306.42" transform="rotate(0.05 7.10 1306.42)" font-size="7.97">Test for overall effect: Z = 2.57 (P = 0.01)</text>
<text x="6.90" y="1325.40" transform="rotate(0.05 6.90 1325.40)" font-size="9.75" class="s" fill="#000">Some concerns</text>
<text x="7.10" y="1338.20" transform="rotate(0.05 7.10 1338.20)" font-size="7.91">Eastham et al, 2020</text>
<text x="121.60" y="1338.20" transform="rotate(0.05 121.60 1338.20)" font-size="7.91" text-anchor="end">43</text>
<text x="152.00" y="1338.20" transform="rotate(0.05 152.00 1338.20)" font-size="7.91" text-anchor="end">391</text>
<text x="185.00" y="1338.20" transform="rotate(0.05 185.00 1338.20)" font-size="7.91" text-anchor="end">64</text>
<text x="210.50" y="1338.20" transform="rotate(0.05 210.50 1338.20)" font-size="7.91" text-anchor="end">397</text>
<text x="243.00" y="1338.20" transform="rotate(0.05 243.00 1338.20)" font-size="7.91" text-anchor="end">14.8%</text>
<text x="303.00" y="1338.20" transform="rotate(0.05 303.00 1338.20)" font-size="7.91" text-anchor="middle">0.68 [0.48, 0.98]</text>
<line x1="397.80" y1="1333.50" x2="424.74" y2="1333.50" stroke="#363636" stroke-width="0.85"/>
<rect x="409.41" y="1332.56" width="3.08" height="3.08" fill="#0c08a8"/>
<text x="7.10" y="1348.80" transform="rotate(0.05 7.10 1348.80)" font-size="7.91">Fleshner et al, 2023</text>
<text x="121.60" y="1348.80" transform="rotate(0.05 121.60 1348.80)" font-size="7.91" text-anchor="end">16</text>
<text x="152.00" y="1348.80" transform="rotate(0.05 152.00 1348.80)" font-size="7.91" text-anchor="end">37</text>
<text x="185.00" y="1348.80" transform="rotate(0.05 185.00 1348.80)" font-size="7.91" text-anchor="end">15</text>
<text x="210.50" y="1348.80" transform="rotate(0.05 210.50 1348.80)" font-size="7.91" text-anchor="end">33</text>
<text x="243.00" y="1348.80" transform="rotate(0.05 243.00 1348.80)" font-size="7.91" text-anchor="end">10.4%</text>
<text x="303.00" y="1348.80" transform="rotate(0.05 303.00 1348.80)" font-size="7.91" text-anchor="middle">0.95 [0.56, 1.61]</text>
<line x1="403.62" y1="1343.50" x2="443.47" y2="1343.50" stroke="#363636" stroke-width="0.85"/>
<rect x="422.27" y="1342.81" width="2.58" height="2.58" fill="#0c08a8"/>
<text x="7.10" y="1359.30" transform="rotate(0.05 7.10 1359.30)" font-size="7.91">Kim et al, 2018</text>
<text x="121.60" y="1359.30" transform="rotate(0.05 121.60 1359.30)" font-size="7.91" text-anchor="end">16</text>
<text x="152.00" y="1359.30" transform="rotate(0.05 152.00 1359.30)" font-size="7.91" text-anchor="end">79</text>
<text x="185.00" y="1359.30" transform="rotate(0.05 185.00 1359.30)" font-size="7.91" text-anchor="end">36</text>
<text x="210.50" y="1359.30" transform="rotate(0.05 210.50 1359.30)" font-size="7.91" text-anchor="end">97</text>
<text x="243.00" y="1359.30" transform="rotate(0.05 243.00 1359.30)" font-size="7.91" text-anchor="end">10.8%</text>
<text x="303.00" y="1359.30" transform="rotate(0.05 303.00 1359.30)" font-size="7.91" text-anchor="middle">0.55 [0.33, 0.91]</text>
<line x1="383.66" y1="1354.50" x2="421.94" y2="1354.50" stroke="#363636" stroke-width="0.85"/>
<rect x="401.62" y="1353.79" width="2.63" height="2.63" fill="#0c08a8"/>
<text x="7.10" y="1370.00" transform="rotate(0.05 7.10 1370.00)" font-size="7.91">Klotz et al, 2003</text>
<text x="121.60" y="1370.00" transform="rotate(0.05 121.60 1370.00)" font-size="7.91" text-anchor="end">42</text>
<text x="152.00" y="1370.00" transform="rotate(0.05 152.00 1370.00)" font-size="7.91" text-anchor="end">112</text>
<text x="185.00" y="1370.00" transform="rotate(0.05 185.00 1370.00)" font-size="7.91" text-anchor="end">34</text>
<text x="210.50" y="1370.00" transform="rotate(0.05 210.50 1370.00)" font-size="7.91" text-anchor="end">101</text>
<text x="243.00" y="1370.00" transform="rotate(0.05 243.00 1370.00)" font-size="7.91" text-anchor="end">14.7%</text>
<text x="303.00" y="1370.00" transform="rotate(0.05 303.00 1370.00)" font-size="7.91" text-anchor="middle">1.11 [0.77, 1.60]</text>
<line x1="415.64" y1="1364.50" x2="443.24" y2="1364.50" stroke="#363636" stroke-width="0.85"/>
<rect x="427.90" y="1363.57" width="3.07" height="3.07" fill="#0c08a8"/>
<text x="7.10" y="1380.60" transform="rotate(0.05 7.10 1380.60)" font-size="7.91">McKay et al, 2019</text>
<text x="121.60" y="1380.60" transform="rotate(0.05 121.60 1380.60)" font-size="7.91" text-anchor="end">15</text>
<text x="152.00" y="1380.60" transform="rotate(0.05 152.00 1380.60)" font-size="7.91" text-anchor="end">50</text>
<text x="185.00" y="1380.60" transform="rotate(0.05 185.00 1380.60)" font-size="7.91" text-anchor="end">4</text>
<text x="210.50" y="1380.60" transform="rotate(0.05 210.50 1380.60)" font-size="7.91" text-anchor="end">25</text>
<text x="243.00" y="1380.60" transform="rotate(0.05 243.00 1380.60)" font-size="7.91" text-anchor="end">4.2%</text>
<text x="303.00" y="1380.60" transform="rotate(0.05 303.00 1380.60)" font-size="7.91" text-anchor="middle">1.88 [0.69, 5.06]</text>
<line x1="411.50" y1="1375.50" x2="486.69" y2="1375.50" stroke="#363636" stroke-width="0.85"/>
<rect x="448.50" y="1375.28" width="1.64" height="1.64" fill="#0c08a8"/>
<text x="7.10" y="1391.30" transform="rotate(0.05 7.10 1391.30)" font-size="7.91">Qian et al, 2024</text>
<text x="121.60" y="1391.30" transform="rotate(0.05 121.60 1391.30)" font-size="7.91" text-anchor="end">4</text>
<text x="152.00" y="1391.30" transform="rotate(0.05 152.00 1391.30)" font-size="7.91" text-anchor="end">42</text>
<text x="185.00" y="1391.30" transform="rotate(0.05 185.00 1391.30)" font-size="7.91" text-anchor="end">24</text>
<text x="210.50" y="1391.30" transform="rotate(0.05 210.50 1391.30)" font-size="7.91" text-anchor="end">83</text>
<text x="243.00" y="1391.30" transform="rotate(0.05 243.00 1391.30)" font-size="7.91" text-anchor="end">4.3%</text>
<text x="303.00" y="1391.30" transform="rotate(0.05 303.00 1391.30)" font-size="7.91" text-anchor="middle">0.33 [0.12, 0.89]</text>
<line x1="345.48" y1="1386.50" x2="421.10" y2="1386.50" stroke="#363636" stroke-width="0.85"/>
<rect x="382.83" y="1386.27" width="1.66" height="1.66" fill="#0c08a8"/>
<text x="7.10" y="1401.90" transform="rotate(0.05 7.10 1401.90)" font-size="7.91">Sumiyoshi et al, 2023</text>
<text x="121.60" y="1401.90" transform="rotate(0.05 121.60 1401.90)" font-size="7.91" text-anchor="end">21</text>
<text x="152.00" y="1401.90" transform="rotate(0.05 152.00 1401.90)" font-size="7.91" text-anchor="end">166</text>
<text x="185.00" y="1401.90" transform="rotate(0.05 185.00 1401.90)" font-size="7.91" text-anchor="end">17</text>
<text x="210.50" y="1401.90" transform="rotate(0.05 210.50 1401.90)" font-size="7.91" text-anchor="end">97</text>
<text x="243.00" y="1401.90" transform="rotate(0.05 243.00 1401.90)" font-size="7.91" text-anchor="end">9.1%</text>
<text x="303.00" y="1401.90" transform="rotate(0.05 303.00 1401.90)" font-size="7.91" text-anchor="middle">0.72 [0.40, 1.30]</text>
<line x1="390.92" y1="1396.50" x2="435.40" y2="1396.50" stroke="#363636" stroke-width="0.85"/>
<rect x="411.90" y="1395.89" width="2.41" height="2.41" fill="#0c08a8"/>
<text x="7.10" y="1412.60" transform="rotate(0.05 7.10 1412.60)" font-size="7.91">Witjes et al, 1997</text>
<text x="121.60" y="1412.60" transform="rotate(0.05 121.60 1412.60)" font-size="7.91" text-anchor="end">31</text>
<text x="152.00" y="1412.60" transform="rotate(0.05 152.00 1412.60)" font-size="7.91" text-anchor="end">72</text>
<text x="185.00" y="1412.60" transform="rotate(0.05 185.00 1412.60)" font-size="7.91" text-anchor="end">49</text>
<text x="210.50" y="1412.60" transform="rotate(0.05 210.50 1412.60)" font-size="7.91" text-anchor="end">83</text>
<text x="243.00" y="1412.60" transform="rotate(0.05 243.00 1412.60)" font-size="7.91" text-anchor="end">16.0%</text>
<text x="303.00" y="1412.60" transform="rotate(0.05 303.00 1412.60)" font-size="7.91" text-anchor="middle">0.73 [0.53, 1.00]</text>
<line x1="401.54" y1="1407.50" x2="425.50" y2="1407.50" stroke="#363636" stroke-width="0.85"/>
<rect x="412.02" y="1406.50" width="3.20" height="3.20" fill="#0c08a8"/>
<text x="7.10" y="1422.42" transform="rotate(0.05 7.10 1422.42)" font-size="7.97" class="b">Subtotal (95% CI)</text>
<text x="152.00" y="1422.40" transform="rotate(0.05 152.00 1422.40)" font-size="7.91" text-anchor="end" class="b">949</text>
<text x="210.50" y="1422.40" transform="rotate(0.05 210.50 1422.40)" font-size="7.91" text-anchor="end" class="b">916</text>
<text x="243.00" y="1422.40" transform="rotate(0.05 243.00 1422.40)" font-size="7.91" text-anchor="end" class="b">84.1%</text>
<text x="303.00" y="1422.40" transform="rotate(0.05 303.00 1422.40)" font-size="7.91" text-anchor="middle" class="b">0.78 [0.61, 0.99]</text>
<polygon points="406.85,1417.50 416.12,1412.90 425.12,1417.50 416.12,1422.10" fill="#000"/>
<text x="7.10" y="1433.92" transform="rotate(0.05 7.10 1433.92)" font-size="7.97">Total events</text>
<text x="121.60" y="1433.90" transform="rotate(0.05 121.60 1433.90)" font-size="7.91" text-anchor="end">188</text>
<text x="185.00" y="1433.90" transform="rotate(0.05 185.00 1433.90)" font-size="7.91" text-anchor="end">243</text>
<text x="7.10" y="1444.52" transform="rotate(0.05 7.10 1444.52)" font-size="7.97">Heterogeneity: Tau² = 0.05; Chi² = 12.90, df = 7 (P = 0.07); I² = 46%</text>
<text x="7.10" y="1455.02" transform="rotate(0.05 7.10 1455.02)" font-size="7.97">Test for overall effect: Z = 2.06 (P = 0.04)</text>
<text x="7.10" y="1475.30" transform="rotate(0.05 7.10 1475.30)" font-size="9.70" class="s" fill="#000">High risk</text>
<text x="7.10" y="1487.00" transform="rotate(0.05 7.10 1487.00)" font-size="7.91">McKay et al, 2024</text>
<text x="121.60" y="1487.00" transform="rotate(0.05 121.60 1487.00)" font-size="7.91" text-anchor="end">14</text>
<text x="152.00" y="1487.00" transform="rotate(0.05 152.00 1487.00)" font-size="7.91" text-anchor="end">42</text>
<text x="185.00" y="1487.00" transform="rotate(0.05 185.00 1487.00)" font-size="7.91" text-anchor="end">15</text>
<text x="210.50" y="1487.00" transform="rotate(0.05 210.50 1487.00)" font-size="7.91" text-anchor="end">40</text>
<text x="243.00" y="1487.00" transform="rotate(0.05 243.00 1487.00)" font-size="7.91" text-anchor="end">9.1%</text>
<text x="303.00" y="1487.00" transform="rotate(0.05 303.00 1487.00)" font-size="7.91" text-anchor="middle">0.89 [0.49, 1.60]</text>
<line x1="398.58" y1="1481.50" x2="443.24" y2="1481.50" stroke="#363636" stroke-width="0.85"/>
<rect x="419.90" y="1480.89" width="2.41" height="2.41" fill="#0c08a8"/>
<text x="7.10" y="1496.82" transform="rotate(0.05 7.10 1496.82)" font-size="7.97" class="b">Subtotal (95% CI)</text>
<text x="152.00" y="1496.80" transform="rotate(0.05 152.00 1496.80)" font-size="7.91" text-anchor="end" class="b">42</text>
<text x="210.50" y="1496.80" transform="rotate(0.05 210.50 1496.80)" font-size="7.91" text-anchor="end" class="b">40</text>
<text x="243.00" y="1496.80" transform="rotate(0.05 243.00 1496.80)" font-size="7.91" text-anchor="end" class="b">9.1%</text>
<text x="303.00" y="1496.80" transform="rotate(0.05 303.00 1496.80)" font-size="7.91" text-anchor="middle" class="b">0.89 [0.49, 1.60]</text>
<polygon points="398.58,1491.90 421.10,1487.30 443.24,1491.90 421.10,1496.50" fill="#000"/>
<text x="7.10" y="1508.22" transform="rotate(0.05 7.10 1508.22)" font-size="7.97">Total events</text>
<text x="121.60" y="1508.20" transform="rotate(0.05 121.60 1508.20)" font-size="7.91" text-anchor="end">14</text>
<text x="185.00" y="1508.20" transform="rotate(0.05 185.00 1508.20)" font-size="7.91" text-anchor="end">15</text>
<text x="7.10" y="1518.82" transform="rotate(0.05 7.10 1518.82)" font-size="7.97">Heterogeneity: Not applicable</text>
<text x="7.10" y="1529.32" transform="rotate(0.05 7.10 1529.32)" font-size="7.97">Test for overall effect: Z = 0.39 (P = 0.69)</text>
<text x="7.10" y="1549.52" transform="rotate(0.05 7.10 1549.52)" font-size="7.97" class="b">Total (95% CI)</text>
<text x="152.00" y="1549.50" transform="rotate(0.05 152.00 1549.50)" font-size="7.91" text-anchor="end" class="b">1052</text>
<text x="210.50" y="1549.50" transform="rotate(0.05 210.50 1549.50)" font-size="7.91" text-anchor="end" class="b">1014</text>
<text x="243.00" y="1549.50" transform="rotate(0.05 243.00 1549.50)" font-size="7.91" text-anchor="end" class="b">100.0%</text>
<text x="303.00" y="1549.50" transform="rotate(0.05 303.00 1549.50)" font-size="7.91" text-anchor="middle" class="b">0.75 [0.60, 0.94]</text>
<polygon points="406.22,1544.60 414.64,1540.00 423.16,1544.60 414.64,1549.20" fill="#000"/>
<text x="7.10" y="1561.02" transform="rotate(0.05 7.10 1561.02)" font-size="7.97">Total events</text>
<text x="121.60" y="1561.00" transform="rotate(0.05 121.60 1561.00)" font-size="7.91" text-anchor="end">210</text>
<text x="185.00" y="1561.00" transform="rotate(0.05 185.00 1561.00)" font-size="7.91" text-anchor="end">278</text>
<text x="7.10" y="1571.62" transform="rotate(0.05 7.10 1571.62)" font-size="7.97">Heterogeneity: Tau² = 0.06; Chi² = 16.76, df = 9 (P = 0.05); I² = 46%</text>
<text x="7.10" y="1582.22" transform="rotate(0.05 7.10 1582.22)" font-size="7.97">Test for overall effect: Z = 2.49 (P = 0.01)</text>
<line x1="425.50" y1="1240.50" x2="425.50" y2="1565.90" stroke="#484848" stroke-width="0.9"/>
<line x1="338.60" y1="1565.90" x2="512.40" y2="1565.90" stroke="#3a3a3a" stroke-width="1.0"/>
<line x1="338.60" y1="1563.20" x2="338.60" y2="1568.40" stroke="#3a3a3a" stroke-width="0.9"/>
<text x="339.00" y="1577.00" transform="rotate(0.05 339.00 1577.00)" font-size="7.91">0.1</text>
<line x1="364.76" y1="1563.20" x2="364.76" y2="1568.40" stroke="#3a3a3a" stroke-width="0.9"/>
<text x="364.76" y="1577.00" transform="rotate(0.05 364.76 1577.00)" font-size="7.91" text-anchor="middle">0.2</text>
<line x1="399.34" y1="1563.20" x2="399.34" y2="1568.40" stroke="#3a3a3a" stroke-width="0.9"/>
<text x="399.34" y="1577.00" transform="rotate(0.05 399.34 1577.00)" font-size="7.91" text-anchor="middle">0.5</text>
<line x1="425.50" y1="1563.20" x2="425.50" y2="1568.40" stroke="#3a3a3a" stroke-width="0.9"/>
<text x="425.50" y="1577.00" transform="rotate(0.05 425.50 1577.00)" font-size="7.91" text-anchor="middle">1</text>
<line x1="451.66" y1="1563.20" x2="451.66" y2="1568.40" stroke="#3a3a3a" stroke-width="0.9"/>
<text x="451.66" y="1577.00" transform="rotate(0.05 451.66 1577.00)" font-size="7.91" text-anchor="middle">2</text>
<line x1="486.24" y1="1563.20" x2="486.24" y2="1568.40" stroke="#3a3a3a" stroke-width="0.9"/>
<text x="486.24" y="1577.00" transform="rotate(0.05 486.24 1577.00)" font-size="7.91" text-anchor="middle">5</text>
<line x1="512.40" y1="1563.20" x2="512.40" y2="1568.40" stroke="#3a3a3a" stroke-width="0.9"/>
<text x="513.40" y="1577.00" transform="rotate(0.05 513.40 1577.00)" font-size="7.91" text-anchor="end">10</text>
</svg>
</body>
</html>
